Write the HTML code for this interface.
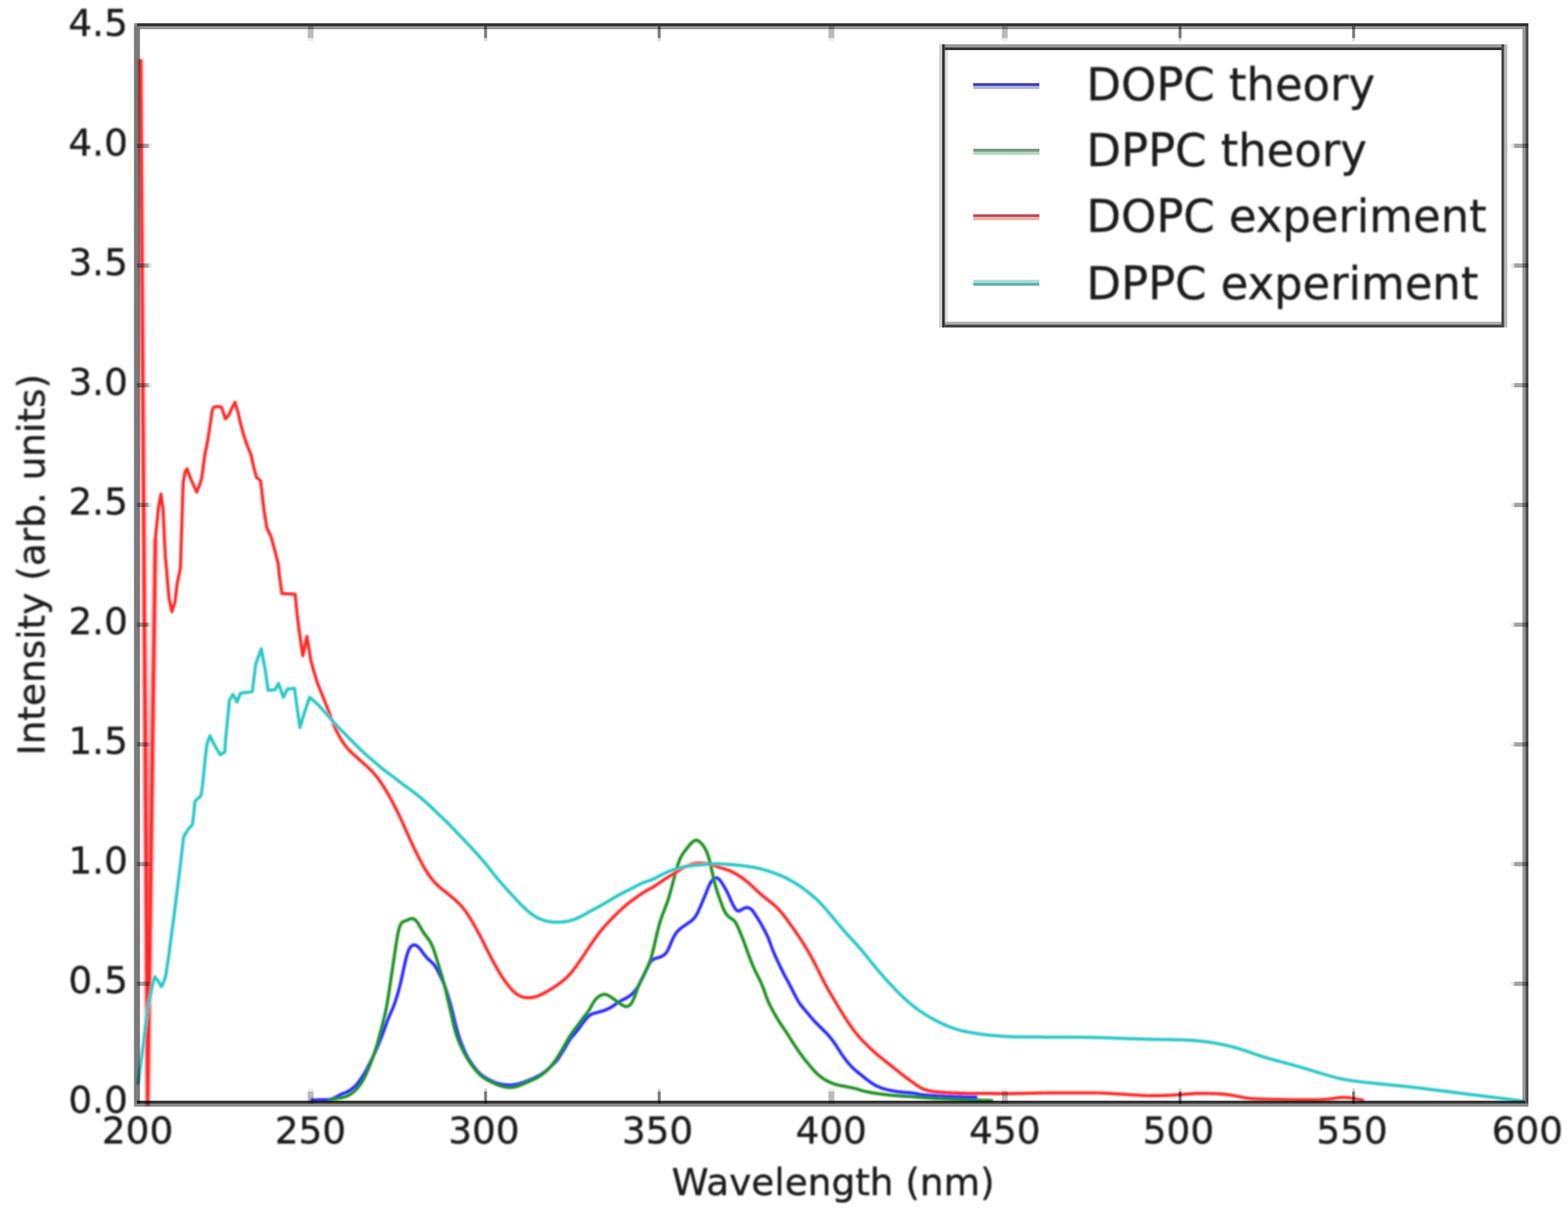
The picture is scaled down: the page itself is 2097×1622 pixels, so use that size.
<!DOCTYPE html>
<html lang="en"><head><meta charset="utf-8"><title>Absorption spectra</title>
<style>
html,body{margin:0;padding:0;background:#fff;}
body{width:2097px;height:1622px;overflow:hidden;}
svg{display:block;font-family:"DejaVu Sans","Liberation Sans",sans-serif;}
text{fill:#1c1c1c;stroke:#1c1c1c;stroke-width:0.45px;}
.tk{font-size:50px;}
.lb{font-size:50px;}
.lg{font-size:60px;}
.c{fill:none;stroke-width:4.2;stroke-linejoin:round;stroke-linecap:butt;}
</style></head><body>
<svg width="2097" height="1622" viewBox="0 0 2097 1622">
<defs>
<filter id="bt" x="-5%" y="-5%" width="110%" height="110%"><feGaussianBlur stdDeviation="1.1"/></filter>
<filter id="bc" x="-5%" y="-5%" width="110%" height="110%"><feGaussianBlur stdDeviation="1.0"/></filter>
<filter id="bs" x="-5%" y="-5%" width="110%" height="110%"><feGaussianBlur stdDeviation="0.55"/></filter>
<linearGradient id="rg" gradientUnits="userSpaceOnUse" x1="0" y1="850" x2="0" y2="1476"><stop offset="0" stop-color="#ff3030" stop-opacity="0"/><stop offset="0.45" stop-color="#ff3030" stop-opacity="0.45"/><stop offset="1" stop-color="#ff2020" stop-opacity="0.75"/></linearGradient>
<clipPath id="cp"><rect x="179" y="31" width="1865" height="1449"/></clipPath>
</defs>
<rect width="2097" height="1622" fill="#fff"/>
<g id="curves" clip-path="url(#cp)" filter="url(#bc)">
<polygon fill="url(#rg)" points="193.2,850 197.5,1476 206,850"/>
<polyline fill="none" stroke="#ff3030" stroke-opacity="0.30" stroke-width="8.5" stroke-linejoin="round" points="188,79 197.5,1476 207.8,720"/>
<polyline class="c" stroke="#2626ff" points="415.4,1470.8 416.4,1470.8 417.4,1470.8 418.4,1470.8 419.4,1470.8 420.4,1470.8 421.4,1470.8 422.4,1470.8 423.4,1470.8 424.4,1470.8 425.4,1470.8 426.4,1470.7 427.4,1470.7 428.4,1470.7 429.4,1470.7 430.4,1470.7 431.4,1470.7 432.4,1470.7 433.4,1470.6 434.4,1470.6 435.4,1470.6 436.4,1470.6 437.4,1470.5 438.4,1470.5 439.4,1470.4 440.4,1470.2 441.4,1470.1 442.4,1469.8 443.4,1469.5 444.4,1469.2 445.4,1468.8 446.4,1468.4 447.4,1467.9 448.4,1467.4 449.4,1466.9 450.4,1466.4 451.4,1465.8 452.4,1465.3 453.4,1464.7 454.4,1464.1 455.4,1463.6 456.4,1463.2 457.4,1462.8 458.4,1462.4 459.4,1462.0 460.4,1461.6 461.4,1461.3 462.4,1460.9 463.4,1460.5 464.4,1460.0 465.4,1459.5 466.4,1458.9 467.4,1458.3 468.4,1457.6 469.4,1456.9 470.4,1456.2 471.4,1455.4 472.4,1454.5 473.4,1453.6 474.4,1452.7 475.4,1451.7 476.4,1450.7 477.4,1449.6 478.4,1448.4 479.4,1447.1 480.4,1445.8 481.4,1444.3 482.4,1442.9 483.4,1441.3 484.4,1439.8 485.4,1438.2 486.4,1436.6 487.4,1435.0 488.4,1433.3 489.4,1431.5 490.4,1429.7 491.4,1427.8 492.4,1425.9 493.4,1423.9 494.4,1421.9 495.4,1419.9 496.4,1417.9 497.4,1415.9 498.4,1413.9 499.4,1411.8 500.4,1409.7 501.4,1407.6 502.4,1405.3 503.4,1403.1 504.4,1400.8 505.4,1398.4 506.4,1396.1 507.4,1393.7 508.4,1391.2 509.4,1388.8 510.4,1386.2 511.4,1383.6 512.4,1380.9 513.4,1378.1 514.4,1375.3 515.4,1372.4 516.4,1369.6 517.4,1366.8 518.4,1364.2 519.4,1361.7 520.4,1359.3 521.4,1357.1 522.4,1354.9 523.4,1352.7 524.4,1350.4 525.4,1348.0 526.4,1345.4 527.4,1342.7 528.4,1339.9 529.4,1336.9 530.4,1333.7 531.4,1330.5 532.4,1327.0 533.4,1323.4 534.4,1319.7 535.4,1315.6 536.4,1311.4 537.4,1307.0 538.4,1302.4 539.4,1297.7 540.4,1293.0 541.4,1288.5 542.4,1284.2 543.4,1280.2 544.4,1276.7 545.4,1273.6 546.4,1270.9 547.4,1268.8 548.4,1267.1 549.4,1265.8 550.4,1264.9 551.4,1264.2 552.4,1263.8 553.4,1263.6 554.4,1263.6 555.4,1263.8 556.4,1264.2 557.4,1264.7 558.4,1265.5 559.4,1266.3 560.4,1267.3 561.4,1268.5 562.4,1269.7 563.4,1271.0 564.4,1272.4 565.4,1273.8 566.4,1275.2 567.4,1276.5 568.4,1277.8 569.4,1279.0 570.4,1280.1 571.4,1281.2 572.4,1282.2 573.4,1283.2 574.4,1284.0 575.4,1284.9 576.4,1285.8 577.4,1286.7 578.4,1287.6 579.4,1288.7 580.4,1289.9 581.4,1291.2 582.4,1292.7 583.4,1294.3 584.4,1296.1 585.4,1298.0 586.4,1300.0 587.4,1302.1 588.4,1304.2 589.4,1306.3 590.4,1308.4 591.4,1310.4 592.4,1312.6 593.4,1314.8 594.4,1317.2 595.4,1319.8 596.4,1322.7 597.4,1325.7 598.4,1328.9 599.4,1332.2 600.4,1335.5 601.4,1339.0 602.4,1342.6 603.4,1346.3 604.4,1350.1 605.4,1354.1 606.4,1358.1 607.4,1362.2 608.4,1366.4 609.4,1370.4 610.4,1374.3 611.4,1378.0 612.4,1381.4 613.4,1384.7 614.4,1387.8 615.4,1390.7 616.4,1393.5 617.4,1396.1 618.4,1398.6 619.4,1401.1 620.4,1403.4 621.4,1405.6 622.4,1407.7 623.4,1409.7 624.4,1411.6 625.4,1413.5 626.4,1415.2 627.4,1416.9 628.4,1418.5 629.4,1420.0 630.4,1421.5 631.4,1423.0 632.4,1424.4 633.4,1425.7 634.4,1427.0 635.4,1428.3 636.4,1429.5 637.4,1430.7 638.4,1431.9 639.4,1433.0 640.4,1434.0 641.4,1435.0 642.4,1435.9 643.4,1436.8 644.4,1437.6 645.4,1438.4 646.4,1439.1 647.4,1439.8 648.4,1440.5 649.4,1441.1 650.4,1441.7 651.4,1442.3 652.4,1442.9 653.4,1443.4 654.4,1443.9 655.4,1444.4 656.4,1444.9 657.4,1445.4 658.4,1445.8 659.4,1446.2 660.4,1446.7 661.4,1447.1 662.4,1447.5 663.4,1447.9 664.4,1448.2 665.4,1448.6 666.4,1448.9 667.4,1449.1 668.4,1449.4 669.4,1449.6 670.4,1449.8 671.4,1450.0 672.4,1450.2 673.4,1450.3 674.4,1450.4 675.4,1450.5 676.4,1450.6 677.4,1450.7 678.4,1450.8 679.4,1450.9 680.4,1450.9 681.4,1450.9 682.4,1450.9 683.4,1450.9 684.4,1450.8 685.4,1450.7 686.4,1450.6 687.4,1450.5 688.4,1450.3 689.4,1450.1 690.4,1449.9 691.4,1449.7 692.4,1449.5 693.4,1449.2 694.4,1449.0 695.4,1448.7 696.4,1448.4 697.4,1448.0 698.4,1447.7 699.4,1447.4 700.4,1447.0 701.4,1446.7 702.4,1446.3 703.4,1445.9 704.4,1445.6 705.4,1445.2 706.4,1444.8 707.4,1444.4 708.4,1444.0 709.4,1443.5 710.4,1443.1 711.4,1442.7 712.4,1442.3 713.4,1441.8 714.4,1441.4 715.4,1440.9 716.4,1440.4 717.4,1439.9 718.4,1439.4 719.4,1438.9 720.4,1438.3 721.4,1437.8 722.4,1437.2 723.4,1436.6 724.4,1436.0 725.4,1435.3 726.4,1434.6 727.4,1433.9 728.4,1433.2 729.4,1432.4 730.4,1431.6 731.4,1430.8 732.4,1429.9 733.4,1429.1 734.4,1428.2 735.4,1427.3 736.4,1426.4 737.4,1425.5 738.4,1424.5 739.4,1423.6 740.4,1422.6 741.4,1421.7 742.4,1420.7 743.4,1419.6 744.4,1418.5 745.4,1417.3 746.4,1415.9 747.4,1414.5 748.4,1412.9 749.4,1411.3 750.4,1409.7 751.4,1408.1 752.4,1406.5 753.4,1404.9 754.4,1403.2 755.4,1401.6 756.4,1399.9 757.4,1398.1 758.4,1396.3 759.4,1394.6 760.4,1392.9 761.4,1391.3 762.4,1389.8 763.4,1388.4 764.4,1387.1 765.4,1385.9 766.4,1384.7 767.4,1383.6 768.4,1382.4 769.4,1381.3 770.4,1380.1 771.4,1378.8 772.4,1377.6 773.4,1376.2 774.4,1374.9 775.4,1373.6 776.4,1372.2 777.4,1370.8 778.4,1369.5 779.4,1368.1 780.4,1366.8 781.4,1365.5 782.4,1364.2 783.4,1363.0 784.4,1361.8 785.4,1360.7 786.4,1359.7 787.4,1358.7 788.4,1357.9 789.4,1357.1 790.4,1356.6 791.4,1356.1 792.4,1355.7 793.4,1355.3 794.4,1355.0 795.4,1354.7 796.4,1354.5 797.4,1354.2 798.4,1353.9 799.4,1353.7 800.4,1353.4 801.4,1353.1 802.4,1352.9 803.4,1352.6 804.4,1352.3 805.4,1352.0 806.4,1351.7 807.4,1351.4 808.4,1351.0 809.4,1350.6 810.4,1350.2 811.4,1349.8 812.4,1349.4 813.4,1348.9 814.4,1348.4 815.4,1347.9 816.4,1347.3 817.4,1346.7 818.4,1346.1 819.4,1345.5 820.4,1344.9 821.4,1344.2 822.4,1343.5 823.4,1342.7 824.4,1342.0 825.4,1341.3 826.4,1340.6 827.4,1339.9 828.4,1339.3 829.4,1338.7 830.4,1338.1 831.4,1337.6 832.4,1337.1 833.4,1336.6 834.4,1336.1 835.4,1335.7 836.4,1335.1 837.4,1334.6 838.4,1334.1 839.4,1333.5 840.4,1332.8 841.4,1332.2 842.4,1331.4 843.4,1330.7 844.4,1329.9 845.4,1329.0 846.4,1328.0 847.4,1327.0 848.4,1325.9 849.4,1324.7 850.4,1323.4 851.4,1321.9 852.4,1320.4 853.4,1318.7 854.4,1316.9 855.4,1315.0 856.4,1313.1 857.4,1311.1 858.4,1309.1 859.4,1307.0 860.4,1305.0 861.4,1303.0 862.4,1300.9 863.4,1298.9 864.4,1296.8 865.4,1294.7 866.4,1292.7 867.4,1290.7 868.4,1288.9 869.4,1287.2 870.4,1285.8 871.4,1284.6 872.4,1283.7 873.4,1283.0 874.4,1282.5 875.4,1282.0 876.4,1281.7 877.4,1281.4 878.4,1281.1 879.4,1280.8 880.4,1280.6 881.4,1280.3 882.4,1279.9 883.4,1279.6 884.4,1279.1 885.4,1278.6 886.4,1278.1 887.4,1277.4 888.4,1276.7 889.4,1275.8 890.4,1274.7 891.4,1273.4 892.4,1271.8 893.4,1270.0 894.4,1267.9 895.4,1265.6 896.4,1263.2 897.4,1260.8 898.4,1258.5 899.4,1256.2 900.4,1254.1 901.4,1252.2 902.4,1250.4 903.4,1248.8 904.4,1247.4 905.4,1246.1 906.4,1245.0 907.4,1244.0 908.4,1243.1 909.4,1242.2 910.4,1241.4 911.4,1240.6 912.4,1239.9 913.4,1239.2 914.4,1238.5 915.4,1237.8 916.4,1237.1 917.4,1236.4 918.4,1235.7 919.4,1235.0 920.4,1234.3 921.4,1233.6 922.4,1232.9 923.4,1232.2 924.4,1231.5 925.4,1230.7 926.4,1229.8 927.4,1228.8 928.4,1227.7 929.4,1226.4 930.4,1225.0 931.4,1223.3 932.4,1221.5 933.4,1219.5 934.4,1217.4 935.4,1215.2 936.4,1213.0 937.4,1210.6 938.4,1208.3 939.4,1205.9 940.4,1203.5 941.4,1201.2 942.4,1198.8 943.4,1196.3 944.4,1193.9 945.4,1191.3 946.4,1188.8 947.4,1186.3 948.4,1184.0 949.4,1181.9 950.4,1180.0 951.4,1178.5 952.4,1177.2 953.4,1176.1 954.4,1175.3 955.4,1174.6 956.4,1174.2 957.4,1173.9 958.4,1173.9 959.4,1174.2 960.4,1174.7 961.4,1175.5 962.4,1176.6 963.4,1177.8 964.4,1179.2 965.4,1180.6 966.4,1182.2 967.4,1183.8 968.4,1185.5 969.4,1187.2 970.4,1189.0 971.4,1190.8 972.4,1192.7 973.4,1194.8 974.4,1196.9 975.4,1199.1 976.4,1201.4 977.4,1203.7 978.4,1206.0 979.4,1208.1 980.4,1210.1 981.4,1212.0 982.4,1213.7 983.4,1215.1 984.4,1216.3 985.4,1217.3 986.4,1217.9 987.4,1218.2 988.4,1218.1 989.4,1217.8 990.4,1217.3 991.4,1216.6 992.4,1216.0 993.4,1215.3 994.4,1214.8 995.4,1214.4 996.4,1214.0 997.4,1213.8 998.4,1213.7 999.4,1213.7 1000.4,1213.8 1001.4,1214.1 1002.4,1214.4 1003.4,1214.9 1004.4,1215.6 1005.4,1216.5 1006.4,1217.6 1007.4,1218.9 1008.4,1220.4 1009.4,1222.0 1010.4,1223.6 1011.4,1225.1 1012.4,1226.7 1013.4,1228.2 1014.4,1229.8 1015.4,1231.4 1016.4,1233.1 1017.4,1234.8 1018.4,1236.5 1019.4,1238.3 1020.4,1240.2 1021.4,1242.0 1022.4,1243.9 1023.4,1245.8 1024.4,1247.7 1025.4,1249.7 1026.4,1251.9 1027.4,1254.1 1028.4,1256.6 1029.4,1259.3 1030.4,1262.1 1031.4,1264.9 1032.4,1267.7 1033.4,1270.3 1034.4,1272.8 1035.4,1275.1 1036.4,1277.4 1037.4,1279.5 1038.4,1281.7 1039.4,1283.8 1040.4,1286.0 1041.4,1288.1 1042.4,1290.3 1043.4,1292.4 1044.4,1294.5 1045.4,1296.5 1046.4,1298.6 1047.4,1300.5 1048.4,1302.5 1049.4,1304.4 1050.4,1306.2 1051.4,1308.1 1052.4,1309.9 1053.4,1311.8 1054.4,1313.7 1055.4,1315.5 1056.4,1317.4 1057.4,1319.4 1058.4,1321.3 1059.4,1323.3 1060.4,1325.3 1061.4,1327.2 1062.4,1329.2 1063.4,1331.1 1064.4,1333.1 1065.4,1334.9 1066.4,1336.7 1067.4,1338.5 1068.4,1340.1 1069.4,1341.7 1070.4,1343.1 1071.4,1344.4 1072.4,1345.7 1073.4,1346.9 1074.4,1348.1 1075.4,1349.2 1076.4,1350.4 1077.4,1351.6 1078.4,1352.8 1079.4,1354.0 1080.4,1355.2 1081.4,1356.4 1082.4,1357.6 1083.4,1358.8 1084.4,1360.0 1085.4,1361.2 1086.4,1362.4 1087.4,1363.5 1088.4,1364.6 1089.4,1365.7 1090.4,1366.7 1091.4,1367.7 1092.4,1368.7 1093.4,1369.7 1094.4,1370.7 1095.4,1371.7 1096.4,1372.7 1097.4,1373.7 1098.4,1374.7 1099.4,1375.7 1100.4,1376.7 1101.4,1377.7 1102.4,1378.7 1103.4,1379.7 1104.4,1380.7 1105.4,1381.7 1106.4,1382.8 1107.4,1383.9 1108.4,1385.1 1109.4,1386.2 1110.4,1387.4 1111.4,1388.7 1112.4,1390.0 1113.4,1391.3 1114.4,1392.6 1115.4,1394.0 1116.4,1395.5 1117.4,1396.9 1118.4,1398.4 1119.4,1399.9 1120.4,1401.5 1121.4,1403.1 1122.4,1404.7 1123.4,1406.2 1124.4,1407.8 1125.4,1409.3 1126.4,1410.7 1127.4,1412.2 1128.4,1413.5 1129.4,1414.9 1130.4,1416.2 1131.4,1417.5 1132.4,1418.8 1133.4,1420.1 1134.4,1421.3 1135.4,1422.5 1136.4,1423.6 1137.4,1424.7 1138.4,1425.8 1139.4,1426.9 1140.4,1427.9 1141.4,1428.8 1142.4,1429.8 1143.4,1430.7 1144.4,1431.5 1145.4,1432.4 1146.4,1433.2 1147.4,1434.0 1148.4,1434.8 1149.4,1435.6 1150.4,1436.4 1151.4,1437.2 1152.4,1438.0 1153.4,1438.8 1154.4,1439.6 1155.4,1440.4 1156.4,1441.2 1157.4,1442.0 1158.4,1442.8 1159.4,1443.6 1160.4,1444.4 1161.4,1445.2 1162.4,1445.9 1163.4,1446.6 1164.4,1447.3 1165.4,1448.0 1166.4,1448.7 1167.4,1449.3 1168.4,1449.9 1169.4,1450.5 1170.4,1451.0 1171.4,1451.6 1172.4,1452.1 1173.4,1452.5 1174.4,1453.0 1175.4,1453.4 1176.4,1453.9 1177.4,1454.3 1178.4,1454.7 1179.4,1455.0 1180.4,1455.4 1181.4,1455.7 1182.4,1456.0 1183.4,1456.3 1184.4,1456.5 1185.4,1456.8 1186.4,1457.0 1187.4,1457.3 1188.4,1457.5 1189.4,1457.7 1190.4,1457.9 1191.4,1458.1 1192.4,1458.3 1193.4,1458.5 1194.4,1458.7 1195.4,1458.9 1196.4,1459.1 1197.4,1459.2 1198.4,1459.4 1199.4,1459.5 1200.4,1459.7 1201.4,1459.8 1202.4,1460.0 1203.4,1460.1 1204.4,1460.2 1205.4,1460.3 1206.4,1460.4 1207.4,1460.5 1208.4,1460.6 1209.4,1460.7 1210.4,1460.7 1211.4,1460.8 1212.4,1460.9 1213.4,1461.0 1214.4,1461.0 1215.4,1461.1 1216.4,1461.2 1217.4,1461.3 1218.4,1461.4 1219.4,1461.5 1220.4,1461.6 1221.4,1461.7 1222.4,1461.9 1223.4,1462.0 1224.4,1462.2 1225.4,1462.4 1226.4,1462.6 1227.4,1462.8 1228.4,1463.0 1229.4,1463.2 1230.4,1463.4 1231.4,1463.5 1232.4,1463.7 1233.4,1463.9 1234.4,1464.0 1235.4,1464.1 1236.4,1464.2 1237.4,1464.3 1238.4,1464.4 1239.4,1464.4 1240.4,1464.5 1241.4,1464.6 1242.4,1464.7 1243.4,1464.7 1244.4,1464.8 1245.4,1464.9 1246.4,1464.9 1247.4,1465.0 1248.4,1465.0 1249.4,1465.1 1250.4,1465.2 1251.4,1465.2 1252.4,1465.3 1253.4,1465.3 1254.4,1465.4 1255.4,1465.5 1256.4,1465.5 1257.4,1465.6 1258.4,1465.6 1259.4,1465.7 1260.4,1465.7 1261.4,1465.8 1262.4,1465.8 1263.4,1465.9 1264.4,1465.9 1265.4,1466.0 1266.4,1466.0 1267.4,1466.1 1268.4,1466.1 1269.4,1466.2 1270.4,1466.2 1271.4,1466.2 1272.4,1466.3 1273.4,1466.3 1274.4,1466.4 1275.4,1466.4 1276.4,1466.4 1277.4,1466.5 1278.4,1466.5 1279.4,1466.5 1280.4,1466.6 1281.4,1466.6 1282.4,1466.6 1283.4,1466.7 1284.4,1466.7 1285.4,1466.7 1286.4,1466.7 1287.4,1466.8 1288.4,1466.8 1289.4,1466.8 1290.4,1466.8 1291.4,1466.8 1292.4,1466.9 1293.4,1466.9 1294.4,1466.9 1295.4,1466.9 1296.4,1466.9 1297.4,1466.9 1298.4,1467.0 1299.4,1467.0 1300.4,1467.0 1301.4,1467.0 1302.4,1467.0 1303.4,1467.0 1304.4,1467.0 1305.4,1467.0 1306.4,1467.0 1307.0,1467.0"/>
<polyline class="c" stroke="#1f8f1f" points="439.5,1470.8 440.5,1470.6 441.5,1470.5 442.5,1470.3 443.5,1470.2 444.5,1470.0 445.5,1469.8 446.5,1469.7 447.5,1469.5 448.5,1469.3 449.5,1469.2 450.5,1469.0 451.5,1468.8 452.5,1468.6 453.5,1468.5 454.5,1468.3 455.5,1468.1 456.5,1467.9 457.5,1467.7 458.5,1467.5 459.5,1467.2 460.5,1466.9 461.5,1466.6 462.5,1466.3 463.5,1465.9 464.5,1465.5 465.5,1465.0 466.5,1464.4 467.5,1463.9 468.5,1463.3 469.5,1462.6 470.5,1461.9 471.5,1461.1 472.5,1460.3 473.5,1459.4 474.5,1458.5 475.5,1457.6 476.5,1456.6 477.5,1455.5 478.5,1454.4 479.5,1453.2 480.5,1452.0 481.5,1450.6 482.5,1449.2 483.5,1447.7 484.5,1446.1 485.5,1444.3 486.5,1442.5 487.5,1440.5 488.5,1438.5 489.5,1436.4 490.5,1434.2 491.5,1431.9 492.5,1429.5 493.5,1427.1 494.5,1424.7 495.5,1422.2 496.5,1419.6 497.5,1417.0 498.5,1414.3 499.5,1411.6 500.5,1408.7 501.5,1405.8 502.5,1402.7 503.5,1399.4 504.5,1396.0 505.5,1392.5 506.5,1388.9 507.5,1385.2 508.5,1381.4 509.5,1377.7 510.5,1373.9 511.5,1370.1 512.5,1366.2 513.5,1362.3 514.5,1358.1 515.5,1353.6 516.5,1348.7 517.5,1343.3 518.5,1337.4 519.5,1331.2 520.5,1324.7 521.5,1318.0 522.5,1311.3 523.5,1304.6 524.5,1297.9 525.5,1291.1 526.5,1284.3 527.5,1277.5 528.5,1270.7 529.5,1264.1 530.5,1257.7 531.5,1251.8 532.5,1246.7 533.5,1242.4 534.5,1239.1 535.5,1236.7 536.5,1234.9 537.5,1233.7 538.5,1232.9 539.5,1232.3 540.5,1231.9 541.5,1231.5 542.5,1231.2 543.5,1230.8 544.5,1230.5 545.5,1230.0 546.5,1229.6 547.5,1229.2 548.5,1228.8 549.5,1228.5 550.5,1228.3 551.5,1228.4 552.5,1228.5 553.5,1228.9 554.5,1229.5 555.5,1230.3 556.5,1231.3 557.5,1232.5 558.5,1233.8 559.5,1235.3 560.5,1236.9 561.5,1238.6 562.5,1240.4 563.5,1242.1 564.5,1243.8 565.5,1245.4 566.5,1247.0 567.5,1248.5 568.5,1249.9 569.5,1251.2 570.5,1252.5 571.5,1253.8 572.5,1255.1 573.5,1256.5 574.5,1258.0 575.5,1259.6 576.5,1261.5 577.5,1263.6 578.5,1265.9 579.5,1268.5 580.5,1271.3 581.5,1274.2 582.5,1277.3 583.5,1280.5 584.5,1283.8 585.5,1287.1 586.5,1290.4 587.5,1293.8 588.5,1297.1 589.5,1300.4 590.5,1303.8 591.5,1307.2 592.5,1310.7 593.5,1314.3 594.5,1318.1 595.5,1322.0 596.5,1326.0 597.5,1330.1 598.5,1334.4 599.5,1338.7 600.5,1343.0 601.5,1347.3 602.5,1351.7 603.5,1356.2 604.5,1360.6 605.5,1365.1 606.5,1369.4 607.5,1373.5 608.5,1377.4 609.5,1380.9 610.5,1384.1 611.5,1387.1 612.5,1389.8 613.5,1392.3 614.5,1394.8 615.5,1397.0 616.5,1399.2 617.5,1401.4 618.5,1403.4 619.5,1405.5 620.5,1407.4 621.5,1409.3 622.5,1411.2 623.5,1412.9 624.5,1414.6 625.5,1416.3 626.5,1417.9 627.5,1419.4 628.5,1420.9 629.5,1422.3 630.5,1423.7 631.5,1425.1 632.5,1426.4 633.5,1427.6 634.5,1428.9 635.5,1430.1 636.5,1431.3 637.5,1432.5 638.5,1433.6 639.5,1434.7 640.5,1435.7 641.5,1436.7 642.5,1437.6 643.5,1438.5 644.5,1439.3 645.5,1440.1 646.5,1440.8 647.5,1441.6 648.5,1442.2 649.5,1442.9 650.5,1443.5 651.5,1444.0 652.5,1444.6 653.5,1445.1 654.5,1445.6 655.5,1446.1 656.5,1446.5 657.5,1447.0 658.5,1447.5 659.5,1447.9 660.5,1448.4 661.5,1448.9 662.5,1449.3 663.5,1449.8 664.5,1450.2 665.5,1450.6 666.5,1451.0 667.5,1451.4 668.5,1451.7 669.5,1452.0 670.5,1452.3 671.5,1452.6 672.5,1452.8 673.5,1453.1 674.5,1453.3 675.5,1453.5 676.5,1453.6 677.5,1453.8 678.5,1453.9 679.5,1454.0 680.5,1454.1 681.5,1454.2 682.5,1454.2 683.5,1454.1 684.5,1454.0 685.5,1453.9 686.5,1453.8 687.5,1453.6 688.5,1453.4 689.5,1453.2 690.5,1453.0 691.5,1452.7 692.5,1452.4 693.5,1452.0 694.5,1451.7 695.5,1451.3 696.5,1450.9 697.5,1450.4 698.5,1450.0 699.5,1449.6 700.5,1449.2 701.5,1448.7 702.5,1448.3 703.5,1447.8 704.5,1447.4 705.5,1447.0 706.5,1446.5 707.5,1446.1 708.5,1445.6 709.5,1445.2 710.5,1444.8 711.5,1444.3 712.5,1443.9 713.5,1443.5 714.5,1443.0 715.5,1442.5 716.5,1442.0 717.5,1441.5 718.5,1440.9 719.5,1440.4 720.5,1439.7 721.5,1439.1 722.5,1438.5 723.5,1437.8 724.5,1437.1 725.5,1436.4 726.5,1435.6 727.5,1434.8 728.5,1434.0 729.5,1433.2 730.5,1432.3 731.5,1431.4 732.5,1430.4 733.5,1429.4 734.5,1428.4 735.5,1427.3 736.5,1426.1 737.5,1424.9 738.5,1423.7 739.5,1422.4 740.5,1421.1 741.5,1419.8 742.5,1418.4 743.5,1417.0 744.5,1415.5 745.5,1413.9 746.5,1412.4 747.5,1410.7 748.5,1409.0 749.5,1407.3 750.5,1405.6 751.5,1403.9 752.5,1402.2 753.5,1400.5 754.5,1398.8 755.5,1397.1 756.5,1395.4 757.5,1393.6 758.5,1391.9 759.5,1390.1 760.5,1388.4 761.5,1386.7 762.5,1385.1 763.5,1383.6 764.5,1382.1 765.5,1380.7 766.5,1379.2 767.5,1377.9 768.5,1376.5 769.5,1375.1 770.5,1373.8 771.5,1372.5 772.5,1371.1 773.5,1369.8 774.5,1368.5 775.5,1367.1 776.5,1365.8 777.5,1364.5 778.5,1363.2 779.5,1361.9 780.5,1360.6 781.5,1359.3 782.5,1358.0 783.5,1356.7 784.5,1355.4 785.5,1354.1 786.5,1352.7 787.5,1351.2 788.5,1349.6 789.5,1347.9 790.5,1346.0 791.5,1344.2 792.5,1342.4 793.5,1340.6 794.5,1339.0 795.5,1337.6 796.5,1336.4 797.5,1335.3 798.5,1334.3 799.5,1333.4 800.5,1332.7 801.5,1332.0 802.5,1331.4 803.5,1330.9 804.5,1330.5 805.5,1330.1 806.5,1329.9 807.5,1329.7 808.5,1329.6 809.5,1329.7 810.5,1329.9 811.5,1330.2 812.5,1330.6 813.5,1331.1 814.5,1331.7 815.5,1332.3 816.5,1332.9 817.5,1333.6 818.5,1334.3 819.5,1335.0 820.5,1335.7 821.5,1336.4 822.5,1337.1 823.5,1337.9 824.5,1338.6 825.5,1339.3 826.5,1340.1 827.5,1340.8 828.5,1341.5 829.5,1342.2 830.5,1342.9 831.5,1343.5 832.5,1344.1 833.5,1344.7 834.5,1345.2 835.5,1345.5 836.5,1345.8 837.5,1345.9 838.5,1345.8 839.5,1345.6 840.5,1345.3 841.5,1344.7 842.5,1343.9 843.5,1342.9 844.5,1341.5 845.5,1339.9 846.5,1337.9 847.5,1335.6 848.5,1333.1 849.5,1330.5 850.5,1327.7 851.5,1324.9 852.5,1322.2 853.5,1319.6 854.5,1317.2 855.5,1315.0 856.5,1312.9 857.5,1310.8 858.5,1308.8 859.5,1306.8 860.5,1304.9 861.5,1302.9 862.5,1300.8 863.5,1298.8 864.5,1296.7 865.5,1294.5 866.5,1292.2 867.5,1289.8 868.5,1287.2 869.5,1284.4 870.5,1281.4 871.5,1278.1 872.5,1274.5 873.5,1270.6 874.5,1266.5 875.5,1262.3 876.5,1257.8 877.5,1253.4 878.5,1249.0 879.5,1244.7 880.5,1240.7 881.5,1237.0 882.5,1233.5 883.5,1230.3 884.5,1227.3 885.5,1224.5 886.5,1221.8 887.5,1219.1 888.5,1216.6 889.5,1214.0 890.5,1211.5 891.5,1208.8 892.5,1206.1 893.5,1203.1 894.5,1200.0 895.5,1196.6 896.5,1193.0 897.5,1189.3 898.5,1185.5 899.5,1181.8 900.5,1178.0 901.5,1174.3 902.5,1170.5 903.5,1166.8 904.5,1163.2 905.5,1159.8 906.5,1156.5 907.5,1153.5 908.5,1150.8 909.5,1148.4 910.5,1146.3 911.5,1144.5 912.5,1142.9 913.5,1141.4 914.5,1139.9 915.5,1138.5 916.5,1137.2 917.5,1135.9 918.5,1134.6 919.5,1133.3 920.5,1132.0 921.5,1130.8 922.5,1129.6 923.5,1128.5 924.5,1127.5 925.5,1126.5 926.5,1125.7 927.5,1124.9 928.5,1124.3 929.5,1123.8 930.5,1123.5 931.5,1123.5 932.5,1123.7 933.5,1124.1 934.5,1124.7 935.5,1125.4 936.5,1126.3 937.5,1127.2 938.5,1128.3 939.5,1129.5 940.5,1130.8 941.5,1132.3 942.5,1133.9 943.5,1135.7 944.5,1137.8 945.5,1140.1 946.5,1142.8 947.5,1145.9 948.5,1149.3 949.5,1153.1 950.5,1157.3 951.5,1161.7 952.5,1166.2 953.5,1170.7 954.5,1175.2 955.5,1179.4 956.5,1183.3 957.5,1186.9 958.5,1190.2 959.5,1193.2 960.5,1196.2 961.5,1199.0 962.5,1201.8 963.5,1204.6 964.5,1207.4 965.5,1210.1 966.5,1212.7 967.5,1215.1 968.5,1217.3 969.5,1219.3 970.5,1221.0 971.5,1222.4 972.5,1223.7 973.5,1224.8 974.5,1225.8 975.5,1226.6 976.5,1227.3 977.5,1227.9 978.5,1228.5 979.5,1229.2 980.5,1230.0 981.5,1230.9 982.5,1232.1 983.5,1233.4 984.5,1235.1 985.5,1236.9 986.5,1238.9 987.5,1241.1 988.5,1243.5 989.5,1245.9 990.5,1248.3 991.5,1250.8 992.5,1253.2 993.5,1255.8 994.5,1258.3 995.5,1261.0 996.5,1263.7 997.5,1266.5 998.5,1269.3 999.5,1272.2 1000.5,1274.9 1001.5,1277.6 1002.5,1280.3 1003.5,1282.9 1004.5,1285.4 1005.5,1287.9 1006.5,1290.3 1007.5,1292.7 1008.5,1295.0 1009.5,1297.2 1010.5,1299.3 1011.5,1301.4 1012.5,1303.3 1013.5,1305.3 1014.5,1307.2 1015.5,1309.2 1016.5,1311.2 1017.5,1313.3 1018.5,1315.5 1019.5,1317.9 1020.5,1320.5 1021.5,1323.2 1022.5,1326.0 1023.5,1328.9 1024.5,1331.8 1025.5,1334.5 1026.5,1337.1 1027.5,1339.4 1028.5,1341.7 1029.5,1343.8 1030.5,1345.8 1031.5,1347.7 1032.5,1349.6 1033.5,1351.5 1034.5,1353.3 1035.5,1355.1 1036.5,1356.9 1037.5,1358.6 1038.5,1360.3 1039.5,1362.0 1040.5,1363.6 1041.5,1365.2 1042.5,1366.8 1043.5,1368.4 1044.5,1369.9 1045.5,1371.4 1046.5,1372.8 1047.5,1374.2 1048.5,1375.7 1049.5,1377.1 1050.5,1378.6 1051.5,1380.1 1052.5,1381.6 1053.5,1383.2 1054.5,1384.8 1055.5,1386.4 1056.5,1388.0 1057.5,1389.6 1058.5,1391.2 1059.5,1392.8 1060.5,1394.4 1061.5,1395.9 1062.5,1397.4 1063.5,1399.0 1064.5,1400.4 1065.5,1401.9 1066.5,1403.3 1067.5,1404.8 1068.5,1406.2 1069.5,1407.6 1070.5,1409.0 1071.5,1410.4 1072.5,1411.8 1073.5,1413.1 1074.5,1414.5 1075.5,1415.8 1076.5,1417.0 1077.5,1418.3 1078.5,1419.5 1079.5,1420.7 1080.5,1421.9 1081.5,1423.1 1082.5,1424.3 1083.5,1425.5 1084.5,1426.7 1085.5,1427.9 1086.5,1429.1 1087.5,1430.2 1088.5,1431.4 1089.5,1432.4 1090.5,1433.5 1091.5,1434.5 1092.5,1435.4 1093.5,1436.4 1094.5,1437.3 1095.5,1438.1 1096.5,1439.0 1097.5,1439.8 1098.5,1440.5 1099.5,1441.3 1100.5,1442.0 1101.5,1442.6 1102.5,1443.3 1103.5,1443.9 1104.5,1444.5 1105.5,1445.0 1106.5,1445.5 1107.5,1446.0 1108.5,1446.5 1109.5,1447.0 1110.5,1447.4 1111.5,1447.8 1112.5,1448.3 1113.5,1448.7 1114.5,1449.0 1115.5,1449.4 1116.5,1449.7 1117.5,1450.0 1118.5,1450.3 1119.5,1450.6 1120.5,1450.8 1121.5,1451.1 1122.5,1451.3 1123.5,1451.5 1124.5,1451.7 1125.5,1451.9 1126.5,1452.1 1127.5,1452.2 1128.5,1452.4 1129.5,1452.6 1130.5,1452.8 1131.5,1453.0 1132.5,1453.2 1133.5,1453.4 1134.5,1453.6 1135.5,1453.8 1136.5,1454.0 1137.5,1454.2 1138.5,1454.4 1139.5,1454.6 1140.5,1454.8 1141.5,1455.0 1142.5,1455.3 1143.5,1455.5 1144.5,1455.8 1145.5,1456.0 1146.5,1456.3 1147.5,1456.6 1148.5,1457.0 1149.5,1457.3 1150.5,1457.6 1151.5,1457.9 1152.5,1458.2 1153.5,1458.5 1154.5,1458.8 1155.5,1459.0 1156.5,1459.3 1157.5,1459.5 1158.5,1459.7 1159.5,1459.9 1160.5,1460.1 1161.5,1460.3 1162.5,1460.5 1163.5,1460.7 1164.5,1460.9 1165.5,1461.1 1166.5,1461.2 1167.5,1461.4 1168.5,1461.6 1169.5,1461.7 1170.5,1461.9 1171.5,1462.0 1172.5,1462.2 1173.5,1462.3 1174.5,1462.5 1175.5,1462.6 1176.5,1462.7 1177.5,1462.9 1178.5,1463.0 1179.5,1463.1 1180.5,1463.3 1181.5,1463.4 1182.5,1463.5 1183.5,1463.6 1184.5,1463.8 1185.5,1463.9 1186.5,1464.0 1187.5,1464.1 1188.5,1464.2 1189.5,1464.3 1190.5,1464.4 1191.5,1464.5 1192.5,1464.6 1193.5,1464.7 1194.5,1464.8 1195.5,1464.8 1196.5,1464.9 1197.5,1465.0 1198.5,1465.1 1199.5,1465.2 1200.5,1465.2 1201.5,1465.3 1202.5,1465.4 1203.5,1465.4 1204.5,1465.5 1205.5,1465.6 1206.5,1465.6 1207.5,1465.7 1208.5,1465.8 1209.5,1465.8 1210.5,1465.9 1211.5,1465.9 1212.5,1466.0 1213.5,1466.1 1214.5,1466.1 1215.5,1466.2 1216.5,1466.3 1217.5,1466.3 1218.5,1466.4 1219.5,1466.5 1220.5,1466.5 1221.5,1466.6 1222.5,1466.7 1223.5,1466.8 1224.5,1466.8 1225.5,1466.9 1226.5,1467.0 1227.5,1467.1 1228.5,1467.1 1229.5,1467.2 1230.5,1467.3 1231.5,1467.4 1232.5,1467.5 1233.5,1467.5 1234.5,1467.6 1235.5,1467.7 1236.5,1467.8 1237.5,1467.8 1238.5,1467.9 1239.5,1468.0 1240.5,1468.1 1241.5,1468.1 1242.5,1468.2 1243.5,1468.3 1244.5,1468.4 1245.5,1468.4 1246.5,1468.5 1247.5,1468.6 1248.5,1468.6 1249.5,1468.7 1250.5,1468.8 1251.5,1468.8 1252.5,1468.9 1253.5,1468.9 1254.5,1469.0 1255.5,1469.0 1256.5,1469.1 1257.5,1469.1 1258.5,1469.2 1259.5,1469.2 1260.5,1469.3 1261.5,1469.3 1262.5,1469.4 1263.5,1469.4 1264.5,1469.5 1265.5,1469.5 1266.5,1469.5 1267.5,1469.6 1268.5,1469.6 1269.5,1469.7 1270.5,1469.7 1271.5,1469.8 1272.5,1469.8 1273.5,1469.9 1274.5,1469.9 1275.5,1470.0 1276.5,1470.0 1277.5,1470.0 1278.5,1470.1 1279.5,1470.1 1280.5,1470.2 1281.5,1470.2 1282.5,1470.3 1283.5,1470.3 1284.5,1470.3 1285.5,1470.4 1286.5,1470.4 1287.5,1470.5 1288.5,1470.5 1289.5,1470.5 1290.5,1470.6 1291.5,1470.6 1292.5,1470.6 1293.5,1470.7 1294.5,1470.7 1295.5,1470.7 1296.5,1470.8 1297.5,1470.8 1298.5,1470.9 1299.5,1470.9 1300.5,1470.9 1301.5,1470.9 1302.5,1471.0 1303.5,1471.0 1304.5,1471.0 1305.5,1471.1 1306.5,1471.1 1307.5,1471.1 1308.5,1471.1 1309.5,1471.2 1310.5,1471.2 1311.5,1471.2 1312.5,1471.2 1313.5,1471.3 1314.5,1471.3 1315.5,1471.3 1316.5,1471.3 1317.5,1471.3 1318.5,1471.4 1319.5,1471.4 1320.5,1471.4 1321.5,1471.4 1322.5,1471.4 1323.5,1471.4 1324.5,1471.5 1325.5,1471.5 1326.5,1471.5 1327.5,1471.5 1328.0,1471.5"/>
<polyline class="c" stroke="#ff2626" points="188.0,79.0 197.5,1476.0 207.8,720.0 211.8,680.0 215.2,660.5 218.0,680.0 221.0,742.0 226.0,800.0 230.0,818.0 234.0,805.0 237.0,780.0 241.3,760.0 245.0,645.0 247.5,631.0 250.2,627.0 255.0,640.0 263.0,658.0 266.5,650.0 270.0,638.0 273.8,609.0 277.8,589.0 281.7,564.0 283.7,549.0 286.0,544.5 291.0,543.5 296.3,544.5 301.5,560.0 306.0,555.0 310.5,545.0 314.3,538.0 318.0,550.0 321.2,564.4 325.1,579.0 330.0,594.0 336.0,609.0 338.0,619.0 342.9,638.0 348.5,643.0 353.1,682.0 356.8,706.0 362.3,717.0 367.9,737.4 372.5,756.0 373.4,768.0 377.1,793.6 394.7,794.6 397.5,823.0 401.2,851.0 404.9,877.0 410.4,851.0 416.0,884.0 419.3,896.2 424.1,912.2 430.5,928.3 436.9,944.3 441.8,957.1 446.6,969.9 447.6,972.0 448.6,974.1 449.6,976.2 450.6,978.2 451.6,980.2 452.6,982.2 453.6,984.1 454.6,985.9 455.6,987.7 456.6,989.4 457.6,991.0 458.6,992.5 459.6,994.0 460.6,995.4 461.6,996.7 462.6,998.0 463.6,999.3 464.6,1000.4 465.6,1001.6 466.6,1002.7 467.6,1003.7 468.6,1004.7 469.6,1005.7 470.6,1006.7 471.6,1007.7 472.6,1008.6 473.6,1009.5 474.6,1010.4 475.6,1011.3 476.6,1012.2 477.6,1013.1 478.6,1014.0 479.6,1014.9 480.6,1015.8 481.6,1016.7 482.6,1017.5 483.6,1018.4 484.6,1019.3 485.6,1020.2 486.6,1021.1 487.6,1022.0 488.6,1022.9 489.6,1023.8 490.6,1024.7 491.6,1025.7 492.6,1026.6 493.6,1027.6 494.6,1028.5 495.6,1029.5 496.6,1030.5 497.6,1031.6 498.6,1032.6 499.6,1033.7 500.6,1034.8 501.6,1036.0 502.6,1037.2 503.6,1038.4 504.6,1039.7 505.6,1041.0 506.6,1042.3 507.6,1043.7 508.6,1045.2 509.6,1046.6 510.6,1048.1 511.6,1049.7 512.6,1051.2 513.6,1052.8 514.6,1054.4 515.6,1056.1 516.6,1057.7 517.6,1059.4 518.6,1061.1 519.6,1062.8 520.6,1064.6 521.6,1066.4 522.6,1068.2 523.6,1070.0 524.6,1071.9 525.6,1073.8 526.6,1075.7 527.6,1077.6 528.6,1079.6 529.6,1081.6 530.6,1083.6 531.6,1085.6 532.6,1087.7 533.6,1089.7 534.6,1091.8 535.6,1094.0 536.6,1096.1 537.6,1098.3 538.6,1100.5 539.6,1102.7 540.6,1104.9 541.6,1107.2 542.6,1109.4 543.6,1111.6 544.6,1113.9 545.6,1116.1 546.6,1118.4 547.6,1120.6 548.6,1122.8 549.6,1125.0 550.6,1127.2 551.6,1129.3 552.6,1131.5 553.6,1133.6 554.6,1135.7 555.6,1137.8 556.6,1139.8 557.6,1141.9 558.6,1143.9 559.6,1145.8 560.6,1147.8 561.6,1149.7 562.6,1151.6 563.6,1153.4 564.6,1155.3 565.6,1157.0 566.6,1158.8 567.6,1160.5 568.6,1162.2 569.6,1163.8 570.6,1165.4 571.6,1167.0 572.6,1168.5 573.6,1170.0 574.6,1171.4 575.6,1172.8 576.6,1174.1 577.6,1175.4 578.6,1176.6 579.6,1177.8 580.6,1179.0 581.6,1180.1 582.6,1181.1 583.6,1182.2 584.6,1183.1 585.6,1184.1 586.6,1185.0 587.6,1185.9 588.6,1186.8 589.6,1187.6 590.6,1188.4 591.6,1189.3 592.6,1190.1 593.6,1190.9 594.6,1191.7 595.6,1192.5 596.6,1193.3 597.6,1194.1 598.6,1194.9 599.6,1195.7 600.6,1196.5 601.6,1197.3 602.6,1198.1 603.6,1198.9 604.6,1199.8 605.6,1200.6 606.6,1201.5 607.6,1202.3 608.6,1203.2 609.6,1204.1 610.6,1205.0 611.6,1206.0 612.6,1206.9 613.6,1207.9 614.6,1208.9 615.6,1210.0 616.6,1211.1 617.6,1212.2 618.6,1213.4 619.6,1214.6 620.6,1215.8 621.6,1217.1 622.6,1218.5 623.6,1219.8 624.6,1221.3 625.6,1222.8 626.6,1224.3 627.6,1225.9 628.6,1227.5 629.6,1229.1 630.6,1230.8 631.6,1232.5 632.6,1234.2 633.6,1236.0 634.6,1237.7 635.6,1239.5 636.6,1241.3 637.6,1243.1 638.6,1245.0 639.6,1246.8 640.6,1248.7 641.6,1250.6 642.6,1252.5 643.6,1254.4 644.6,1256.4 645.6,1258.3 646.6,1260.3 647.6,1262.2 648.6,1264.2 649.6,1266.2 650.6,1268.2 651.6,1270.2 652.6,1272.1 653.6,1274.1 654.6,1276.1 655.6,1278.1 656.6,1280.0 657.6,1282.0 658.6,1283.9 659.6,1285.8 660.6,1287.6 661.6,1289.5 662.6,1291.3 663.6,1293.1 664.6,1294.9 665.6,1296.6 666.6,1298.3 667.6,1300.0 668.6,1301.6 669.6,1303.2 670.6,1304.8 671.6,1306.3 672.6,1307.9 673.6,1309.3 674.6,1310.8 675.6,1312.2 676.6,1313.6 677.6,1314.9 678.6,1316.3 679.6,1317.5 680.6,1318.8 681.6,1320.0 682.6,1321.2 683.6,1322.3 684.6,1323.4 685.6,1324.4 686.6,1325.4 687.6,1326.4 688.6,1327.3 689.6,1328.1 690.6,1328.9 691.6,1329.6 692.6,1330.2 693.6,1330.8 694.6,1331.4 695.6,1331.9 696.6,1332.3 697.6,1332.7 698.6,1333.0 699.6,1333.3 700.6,1333.5 701.6,1333.7 702.6,1333.9 703.6,1334.0 704.6,1334.1 705.6,1334.1 706.6,1334.1 707.6,1334.1 708.6,1334.1 709.6,1334.0 710.6,1333.9 711.6,1333.8 712.6,1333.6 713.6,1333.4 714.6,1333.2 715.6,1333.0 716.6,1332.7 717.6,1332.4 718.6,1332.0 719.6,1331.7 720.6,1331.3 721.6,1330.9 722.6,1330.5 723.6,1330.0 724.6,1329.5 725.6,1329.1 726.6,1328.5 727.6,1328.0 728.6,1327.5 729.6,1327.0 730.6,1326.4 731.6,1325.8 732.6,1325.2 733.6,1324.7 734.6,1324.1 735.6,1323.4 736.6,1322.8 737.6,1322.2 738.6,1321.6 739.6,1320.9 740.6,1320.3 741.6,1319.6 742.6,1318.9 743.6,1318.2 744.6,1317.6 745.6,1316.9 746.6,1316.1 747.6,1315.4 748.6,1314.7 749.6,1314.0 750.6,1313.2 751.6,1312.4 752.6,1311.6 753.6,1310.8 754.6,1310.0 755.6,1309.1 756.6,1308.2 757.6,1307.3 758.6,1306.3 759.6,1305.3 760.6,1304.3 761.6,1303.2 762.6,1302.1 763.6,1301.0 764.6,1299.8 765.6,1298.5 766.6,1297.3 767.6,1296.0 768.6,1294.6 769.6,1293.3 770.6,1291.9 771.6,1290.5 772.6,1289.1 773.6,1287.6 774.6,1286.2 775.6,1284.7 776.6,1283.2 777.6,1281.8 778.6,1280.3 779.6,1278.8 780.6,1277.3 781.6,1275.8 782.6,1274.3 783.6,1272.8 784.6,1271.3 785.6,1269.9 786.6,1268.4 787.6,1266.9 788.6,1265.4 789.6,1264.0 790.6,1262.5 791.6,1261.0 792.6,1259.6 793.6,1258.1 794.6,1256.7 795.6,1255.3 796.6,1253.9 797.6,1252.5 798.6,1251.2 799.6,1249.8 800.6,1248.5 801.6,1247.2 802.6,1245.9 803.6,1244.7 804.6,1243.4 805.6,1242.2 806.6,1241.0 807.6,1239.9 808.6,1238.7 809.6,1237.6 810.6,1236.5 811.6,1235.4 812.6,1234.3 813.6,1233.2 814.6,1232.2 815.6,1231.1 816.6,1230.1 817.6,1229.0 818.6,1228.0 819.6,1227.0 820.6,1226.0 821.6,1225.0 822.6,1224.0 823.6,1223.0 824.6,1222.0 825.6,1221.0 826.6,1220.1 827.6,1219.1 828.6,1218.1 829.6,1217.2 830.6,1216.3 831.6,1215.3 832.6,1214.4 833.6,1213.5 834.6,1212.6 835.6,1211.8 836.6,1210.9 837.6,1210.1 838.6,1209.2 839.6,1208.4 840.6,1207.6 841.6,1206.8 842.6,1206.0 843.6,1205.3 844.6,1204.5 845.6,1203.8 846.6,1203.1 847.6,1202.3 848.6,1201.6 849.6,1200.9 850.6,1200.2 851.6,1199.5 852.6,1198.8 853.6,1198.1 854.6,1197.4 855.6,1196.7 856.6,1196.0 857.6,1195.3 858.6,1194.7 859.6,1194.0 860.6,1193.4 861.6,1192.8 862.6,1192.2 863.6,1191.6 864.6,1191.1 865.6,1190.5 866.6,1190.0 867.6,1189.5 868.6,1188.9 869.6,1188.4 870.6,1187.8 871.6,1187.3 872.6,1186.7 873.6,1186.1 874.6,1185.5 875.6,1184.8 876.6,1184.2 877.6,1183.5 878.6,1182.8 879.6,1182.1 880.6,1181.4 881.6,1180.7 882.6,1180.0 883.6,1179.3 884.6,1178.7 885.6,1178.0 886.6,1177.3 887.6,1176.6 888.6,1175.9 889.6,1175.3 890.6,1174.6 891.6,1174.0 892.6,1173.4 893.6,1172.7 894.6,1172.1 895.6,1171.5 896.6,1170.9 897.6,1170.3 898.6,1169.7 899.6,1169.1 900.6,1168.5 901.6,1167.9 902.6,1167.3 903.6,1166.6 904.6,1166.0 905.6,1165.4 906.6,1164.8 907.6,1164.2 908.6,1163.6 909.6,1163.0 910.6,1162.4 911.6,1161.8 912.6,1161.2 913.6,1160.7 914.6,1160.1 915.6,1159.6 916.6,1159.1 917.6,1158.6 918.6,1158.1 919.6,1157.6 920.6,1157.2 921.6,1156.8 922.6,1156.5 923.6,1156.1 924.6,1155.8 925.6,1155.5 926.6,1155.3 927.6,1155.1 928.6,1154.9 929.6,1154.7 930.6,1154.6 931.6,1154.4 932.6,1154.3 933.6,1154.3 934.6,1154.2 935.6,1154.2 936.6,1154.1 937.6,1154.1 938.6,1154.2 939.6,1154.2 940.6,1154.3 941.6,1154.4 942.6,1154.5 943.6,1154.6 944.6,1154.8 945.6,1154.9 946.6,1155.1 947.6,1155.3 948.6,1155.6 949.6,1155.8 950.6,1156.1 951.6,1156.4 952.6,1156.7 953.6,1157.0 954.6,1157.3 955.6,1157.6 956.6,1158.0 957.6,1158.3 958.6,1158.6 959.6,1158.9 960.6,1159.3 961.6,1159.6 962.6,1159.9 963.6,1160.2 964.6,1160.5 965.6,1160.8 966.6,1161.2 967.6,1161.5 968.6,1161.8 969.6,1162.1 970.6,1162.5 971.6,1162.8 972.6,1163.2 973.6,1163.5 974.6,1163.9 975.6,1164.3 976.6,1164.7 977.6,1165.2 978.6,1165.6 979.6,1166.1 980.6,1166.6 981.6,1167.1 982.6,1167.7 983.6,1168.2 984.6,1168.8 985.6,1169.4 986.6,1170.0 987.6,1170.7 988.6,1171.3 989.6,1172.0 990.6,1172.6 991.6,1173.3 992.6,1174.0 993.6,1174.8 994.6,1175.5 995.6,1176.2 996.6,1177.0 997.6,1177.8 998.6,1178.6 999.6,1179.4 1000.6,1180.2 1001.6,1181.1 1002.6,1182.0 1003.6,1182.9 1004.6,1183.8 1005.6,1184.7 1006.6,1185.6 1007.6,1186.5 1008.6,1187.5 1009.6,1188.4 1010.6,1189.4 1011.6,1190.3 1012.6,1191.3 1013.6,1192.2 1014.6,1193.1 1015.6,1194.0 1016.6,1194.9 1017.6,1195.8 1018.6,1196.7 1019.6,1197.5 1020.6,1198.4 1021.6,1199.2 1022.6,1200.0 1023.6,1200.8 1024.6,1201.6 1025.6,1202.4 1026.6,1203.1 1027.6,1203.9 1028.6,1204.7 1029.6,1205.5 1030.6,1206.3 1031.6,1207.1 1032.6,1207.9 1033.6,1208.8 1034.6,1209.6 1035.6,1210.5 1036.6,1211.4 1037.6,1212.3 1038.6,1213.3 1039.6,1214.2 1040.6,1215.3 1041.6,1216.3 1042.6,1217.4 1043.6,1218.5 1044.6,1219.6 1045.6,1220.8 1046.6,1222.0 1047.6,1223.3 1048.6,1224.5 1049.6,1225.8 1050.6,1227.2 1051.6,1228.5 1052.6,1229.9 1053.6,1231.3 1054.6,1232.7 1055.6,1234.1 1056.6,1235.5 1057.6,1236.9 1058.6,1238.3 1059.6,1239.7 1060.6,1241.1 1061.6,1242.6 1062.6,1244.0 1063.6,1245.4 1064.6,1246.8 1065.6,1248.3 1066.6,1249.7 1067.6,1251.2 1068.6,1252.7 1069.6,1254.2 1070.6,1255.7 1071.6,1257.2 1072.6,1258.7 1073.6,1260.3 1074.6,1261.9 1075.6,1263.4 1076.6,1265.1 1077.6,1266.7 1078.6,1268.4 1079.6,1270.0 1080.6,1271.7 1081.6,1273.5 1082.6,1275.2 1083.6,1277.0 1084.6,1278.8 1085.6,1280.6 1086.6,1282.5 1087.6,1284.4 1088.6,1286.3 1089.6,1288.2 1090.6,1290.1 1091.6,1292.1 1092.6,1294.1 1093.6,1296.1 1094.6,1298.1 1095.6,1300.1 1096.6,1302.2 1097.6,1304.2 1098.6,1306.2 1099.6,1308.2 1100.6,1310.2 1101.6,1312.1 1102.6,1314.0 1103.6,1315.9 1104.6,1317.8 1105.6,1319.6 1106.6,1321.4 1107.6,1323.2 1108.6,1324.9 1109.6,1326.6 1110.6,1328.3 1111.6,1330.0 1112.6,1331.7 1113.6,1333.4 1114.6,1335.1 1115.6,1336.8 1116.6,1338.4 1117.6,1340.1 1118.6,1341.8 1119.6,1343.5 1120.6,1345.1 1121.6,1346.8 1122.6,1348.5 1123.6,1350.1 1124.6,1351.8 1125.6,1353.4 1126.6,1355.0 1127.6,1356.7 1128.6,1358.3 1129.6,1359.8 1130.6,1361.4 1131.6,1362.9 1132.6,1364.5 1133.6,1366.0 1134.6,1367.5 1135.6,1369.0 1136.6,1370.4 1137.6,1371.8 1138.6,1373.3 1139.6,1374.6 1140.6,1376.0 1141.6,1377.4 1142.6,1378.7 1143.6,1380.0 1144.6,1381.2 1145.6,1382.5 1146.6,1383.7 1147.6,1384.8 1148.6,1386.0 1149.6,1387.1 1150.6,1388.3 1151.6,1389.4 1152.6,1390.4 1153.6,1391.5 1154.6,1392.6 1155.6,1393.6 1156.6,1394.6 1157.6,1395.6 1158.6,1396.6 1159.6,1397.6 1160.6,1398.6 1161.6,1399.6 1162.6,1400.6 1163.6,1401.5 1164.6,1402.5 1165.6,1403.4 1166.6,1404.3 1167.6,1405.3 1168.6,1406.2 1169.6,1407.0 1170.6,1407.9 1171.6,1408.8 1172.6,1409.6 1173.6,1410.5 1174.6,1411.3 1175.6,1412.1 1176.6,1412.9 1177.6,1413.7 1178.6,1414.5 1179.6,1415.3 1180.6,1416.1 1181.6,1416.9 1182.6,1417.7 1183.6,1418.5 1184.6,1419.3 1185.6,1420.1 1186.6,1420.9 1187.6,1421.7 1188.6,1422.5 1189.6,1423.3 1190.6,1424.1 1191.6,1424.9 1192.6,1425.7 1193.6,1426.5 1194.6,1427.3 1195.6,1428.1 1196.6,1428.9 1197.6,1429.7 1198.6,1430.5 1199.6,1431.3 1200.6,1432.1 1201.6,1432.9 1202.6,1433.7 1203.6,1434.5 1204.6,1435.3 1205.6,1436.1 1206.6,1436.9 1207.6,1437.7 1208.6,1438.4 1209.6,1439.2 1210.6,1440.0 1211.6,1440.7 1212.6,1441.5 1213.6,1442.2 1214.6,1442.9 1215.6,1443.7 1216.6,1444.4 1217.6,1445.1 1218.6,1445.8 1219.6,1446.6 1220.6,1447.3 1221.6,1448.0 1222.6,1448.7 1223.6,1449.4 1224.6,1450.1 1225.6,1450.8 1226.6,1451.5 1227.6,1452.2 1228.6,1452.8 1229.6,1453.4 1230.6,1454.0 1231.6,1454.6 1232.6,1455.1 1233.6,1455.6 1234.6,1456.1 1235.6,1456.5 1236.6,1456.9 1237.6,1457.2 1238.6,1457.6 1239.6,1457.8 1240.6,1458.1 1241.6,1458.4 1242.6,1458.6 1243.6,1458.8 1244.6,1459.0 1245.6,1459.2 1246.6,1459.3 1247.6,1459.5 1248.6,1459.6 1249.6,1459.7 1250.6,1459.8 1251.6,1460.0 1252.6,1460.1 1253.6,1460.2 1254.6,1460.2 1255.6,1460.3 1256.6,1460.4 1257.6,1460.5 1258.6,1460.6 1259.6,1460.6 1260.6,1460.7 1261.6,1460.8 1262.6,1460.8 1263.6,1460.9 1264.6,1461.0 1265.6,1461.0 1266.6,1461.1 1267.6,1461.1 1268.6,1461.2 1269.6,1461.2 1270.6,1461.3 1271.6,1461.3 1272.6,1461.4 1273.6,1461.4 1274.6,1461.5 1275.6,1461.5 1276.6,1461.5 1277.6,1461.6 1278.6,1461.6 1279.6,1461.7 1280.6,1461.7 1281.6,1461.7 1282.6,1461.8 1283.6,1461.8 1284.6,1461.8 1285.6,1461.8 1286.6,1461.9 1287.6,1461.9 1288.6,1461.9 1289.6,1461.9 1290.6,1461.9 1291.6,1462.0 1292.6,1462.0 1293.6,1462.0 1294.6,1462.0 1295.6,1462.0 1296.6,1462.0 1297.6,1462.0 1298.6,1462.0 1299.6,1462.1 1300.6,1462.1 1301.6,1462.1 1302.6,1462.1 1303.6,1462.1 1304.6,1462.1 1305.6,1462.1 1306.6,1462.1 1307.6,1462.1 1308.6,1462.1 1309.6,1462.1 1310.6,1462.1 1311.6,1462.2 1312.6,1462.2 1313.6,1462.2 1314.6,1462.2 1315.6,1462.2 1316.6,1462.2 1317.6,1462.2 1318.6,1462.2 1319.6,1462.2 1320.6,1462.2 1321.6,1462.2 1322.6,1462.2 1323.6,1462.2 1324.6,1462.2 1325.6,1462.2 1326.6,1462.2 1327.6,1462.2 1328.6,1462.2 1329.6,1462.3 1330.6,1462.3 1331.6,1462.3 1332.6,1462.3 1333.6,1462.3 1334.6,1462.3 1335.6,1462.3 1336.6,1462.3 1337.6,1462.3 1338.6,1462.3 1339.6,1462.3 1340.6,1462.3 1341.6,1462.3 1342.6,1462.3 1343.6,1462.3 1344.6,1462.3 1345.6,1462.3 1346.6,1462.3 1347.6,1462.3 1348.6,1462.3 1349.6,1462.3 1350.6,1462.3 1351.6,1462.3 1352.6,1462.3 1353.6,1462.3 1354.6,1462.3 1355.6,1462.3 1356.6,1462.3 1357.6,1462.2 1358.6,1462.2 1359.6,1462.2 1360.6,1462.2 1361.6,1462.2 1362.6,1462.2 1363.6,1462.2 1364.6,1462.2 1365.6,1462.1 1366.6,1462.1 1367.6,1462.1 1368.6,1462.1 1369.6,1462.1 1370.6,1462.0 1371.6,1462.0 1372.6,1462.0 1373.6,1462.0 1374.6,1462.0 1375.6,1461.9 1376.6,1461.9 1377.6,1461.9 1378.6,1461.9 1379.6,1461.8 1380.6,1461.8 1381.6,1461.8 1382.6,1461.8 1383.6,1461.8 1384.6,1461.7 1385.6,1461.7 1386.6,1461.7 1387.6,1461.7 1388.6,1461.6 1389.6,1461.6 1390.6,1461.6 1391.6,1461.6 1392.6,1461.6 1393.6,1461.6 1394.6,1461.5 1395.6,1461.5 1396.6,1461.5 1397.6,1461.5 1398.6,1461.5 1399.6,1461.5 1400.6,1461.5 1401.6,1461.5 1402.6,1461.4 1403.6,1461.4 1404.6,1461.4 1405.6,1461.4 1406.6,1461.4 1407.6,1461.4 1408.6,1461.4 1409.6,1461.4 1410.6,1461.4 1411.6,1461.4 1412.6,1461.4 1413.6,1461.4 1414.6,1461.4 1415.6,1461.4 1416.6,1461.4 1417.6,1461.4 1418.6,1461.4 1419.6,1461.4 1420.6,1461.4 1421.6,1461.4 1422.6,1461.4 1423.6,1461.4 1424.6,1461.4 1425.6,1461.4 1426.6,1461.4 1427.6,1461.4 1428.6,1461.4 1429.6,1461.4 1430.6,1461.4 1431.6,1461.4 1432.6,1461.4 1433.6,1461.4 1434.6,1461.4 1435.6,1461.4 1436.6,1461.4 1437.6,1461.4 1438.6,1461.4 1439.6,1461.4 1440.6,1461.4 1441.6,1461.4 1442.6,1461.4 1443.6,1461.4 1444.6,1461.4 1445.6,1461.4 1446.6,1461.4 1447.6,1461.4 1448.6,1461.4 1449.6,1461.4 1450.6,1461.4 1451.6,1461.4 1452.6,1461.4 1453.6,1461.4 1454.6,1461.4 1455.6,1461.4 1456.6,1461.4 1457.6,1461.4 1458.6,1461.4 1459.6,1461.4 1460.6,1461.4 1461.6,1461.4 1462.6,1461.4 1463.6,1461.4 1464.6,1461.4 1465.6,1461.4 1466.6,1461.5 1467.6,1461.5 1468.6,1461.5 1469.6,1461.5 1470.6,1461.5 1471.6,1461.6 1472.6,1461.6 1473.6,1461.6 1474.6,1461.7 1475.6,1461.7 1476.6,1461.8 1477.6,1461.8 1478.6,1461.8 1479.6,1461.9 1480.6,1461.9 1481.6,1462.0 1482.6,1462.1 1483.6,1462.1 1484.6,1462.2 1485.6,1462.2 1486.6,1462.3 1487.6,1462.4 1488.6,1462.4 1489.6,1462.5 1490.6,1462.5 1491.6,1462.6 1492.6,1462.7 1493.6,1462.7 1494.6,1462.8 1495.6,1462.9 1496.6,1462.9 1497.6,1463.0 1498.6,1463.0 1499.6,1463.1 1500.6,1463.2 1501.6,1463.2 1502.6,1463.3 1503.6,1463.3 1504.6,1463.4 1505.6,1463.5 1506.6,1463.5 1507.6,1463.6 1508.6,1463.6 1509.6,1463.7 1510.6,1463.8 1511.6,1463.8 1512.6,1463.9 1513.6,1463.9 1514.6,1464.0 1515.6,1464.1 1516.6,1464.1 1517.6,1464.2 1518.6,1464.2 1519.6,1464.3 1520.6,1464.4 1521.6,1464.4 1522.6,1464.5 1523.6,1464.5 1524.6,1464.6 1525.6,1464.7 1526.6,1464.7 1527.6,1464.8 1528.6,1464.8 1529.6,1464.8 1530.6,1464.9 1531.6,1464.9 1532.6,1465.0 1533.6,1465.0 1534.6,1465.0 1535.6,1465.1 1536.6,1465.1 1537.6,1465.1 1538.6,1465.1 1539.6,1465.1 1540.6,1465.1 1541.6,1465.1 1542.6,1465.1 1543.6,1465.1 1544.6,1465.1 1545.6,1465.1 1546.6,1465.1 1547.6,1465.1 1548.6,1465.1 1549.6,1465.1 1550.6,1465.0 1551.6,1465.0 1552.6,1465.0 1553.6,1465.0 1554.6,1464.9 1555.6,1464.9 1556.6,1464.8 1557.6,1464.8 1558.6,1464.8 1559.6,1464.7 1560.6,1464.7 1561.6,1464.6 1562.6,1464.6 1563.6,1464.6 1564.6,1464.5 1565.6,1464.5 1566.6,1464.4 1567.6,1464.4 1568.6,1464.3 1569.6,1464.3 1570.6,1464.2 1571.6,1464.2 1572.6,1464.1 1573.6,1464.0 1574.6,1464.0 1575.6,1463.9 1576.6,1463.9 1577.6,1463.8 1578.6,1463.7 1579.6,1463.7 1580.6,1463.6 1581.6,1463.5 1582.6,1463.4 1583.6,1463.3 1584.6,1463.3 1585.6,1463.2 1586.6,1463.1 1587.6,1463.0 1588.6,1462.9 1589.6,1462.8 1590.6,1462.7 1591.6,1462.7 1592.6,1462.6 1593.6,1462.5 1594.6,1462.4 1595.6,1462.4 1596.6,1462.3 1597.6,1462.3 1598.6,1462.2 1599.6,1462.2 1600.6,1462.2 1601.6,1462.1 1602.6,1462.1 1603.6,1462.1 1604.6,1462.1 1605.6,1462.1 1606.6,1462.1 1607.6,1462.1 1608.6,1462.1 1609.6,1462.1 1610.6,1462.1 1611.6,1462.1 1612.6,1462.1 1613.6,1462.1 1614.6,1462.2 1615.6,1462.2 1616.6,1462.2 1617.6,1462.2 1618.6,1462.2 1619.6,1462.3 1620.6,1462.3 1621.6,1462.3 1622.6,1462.4 1623.6,1462.4 1624.6,1462.4 1625.6,1462.5 1626.6,1462.5 1627.6,1462.5 1628.6,1462.6 1629.6,1462.6 1630.6,1462.7 1631.6,1462.7 1632.6,1462.8 1633.6,1462.9 1634.6,1463.0 1635.6,1463.0 1636.6,1463.1 1637.6,1463.2 1638.6,1463.3 1639.6,1463.4 1640.6,1463.6 1641.6,1463.7 1642.6,1463.8 1643.6,1464.0 1644.6,1464.1 1645.6,1464.3 1646.6,1464.4 1647.6,1464.6 1648.6,1464.8 1649.6,1464.9 1650.6,1465.1 1651.6,1465.3 1652.6,1465.5 1653.6,1465.7 1654.6,1465.9 1655.6,1466.1 1656.6,1466.3 1657.6,1466.5 1658.6,1466.7 1659.6,1466.9 1660.6,1467.1 1661.6,1467.3 1662.6,1467.5 1663.6,1467.7 1664.6,1467.9 1665.6,1468.1 1666.6,1468.2 1667.6,1468.4 1668.6,1468.5 1669.6,1468.6 1670.6,1468.7 1671.6,1468.8 1672.6,1468.9 1673.6,1469.0 1674.6,1469.1 1675.6,1469.1 1676.6,1469.2 1677.6,1469.3 1678.6,1469.3 1679.6,1469.4 1680.6,1469.4 1681.6,1469.4 1682.6,1469.5 1683.6,1469.5 1684.6,1469.6 1685.6,1469.6 1686.6,1469.6 1687.6,1469.7 1688.6,1469.7 1689.6,1469.7 1690.6,1469.7 1691.6,1469.8 1692.6,1469.8 1693.6,1469.8 1694.6,1469.9 1695.6,1469.9 1696.6,1469.9 1697.6,1469.9 1698.6,1469.9 1699.6,1470.0 1700.6,1470.0 1701.6,1470.0 1702.6,1470.0 1703.6,1470.1 1704.6,1470.1 1705.6,1470.1 1706.6,1470.1 1707.6,1470.1 1708.6,1470.2 1709.6,1470.2 1710.6,1470.2 1711.6,1470.2 1712.6,1470.2 1713.6,1470.3 1714.6,1470.3 1715.6,1470.3 1716.6,1470.3 1717.6,1470.3 1718.6,1470.3 1719.6,1470.4 1720.6,1470.4 1721.6,1470.4 1722.6,1470.4 1723.6,1470.4 1724.6,1470.5 1725.6,1470.5 1726.6,1470.5 1727.6,1470.5 1728.6,1470.5 1729.6,1470.5 1730.6,1470.5 1731.6,1470.6 1732.6,1470.6 1733.6,1470.6 1734.6,1470.6 1735.6,1470.6 1736.6,1470.6 1737.6,1470.6 1738.6,1470.6 1739.6,1470.6 1740.6,1470.6 1741.6,1470.7 1742.6,1470.7 1743.6,1470.7 1744.6,1470.7 1745.6,1470.7 1746.6,1470.7 1747.6,1470.7 1748.6,1470.7 1749.6,1470.7 1750.6,1470.7 1751.6,1470.7 1752.6,1470.7 1753.6,1470.6 1754.6,1470.6 1755.6,1470.6 1756.6,1470.6 1757.6,1470.6 1758.6,1470.6 1759.6,1470.6 1760.6,1470.5 1761.6,1470.5 1762.6,1470.5 1763.6,1470.5 1764.6,1470.4 1765.6,1470.4 1766.6,1470.3 1767.6,1470.3 1768.6,1470.3 1769.6,1470.2 1770.6,1470.2 1771.6,1470.1 1772.6,1470.0 1773.6,1470.0 1774.6,1469.9 1775.6,1469.8 1776.6,1469.7 1777.6,1469.6 1778.6,1469.5 1779.6,1469.3 1780.6,1469.2 1781.6,1469.1 1782.6,1468.9 1783.6,1468.8 1784.6,1468.6 1785.6,1468.5 1786.6,1468.3 1787.6,1468.2 1788.6,1468.0 1789.6,1467.9 1790.6,1467.8 1791.6,1467.7 1792.6,1467.6 1793.6,1467.5 1794.6,1467.5 1795.6,1467.4 1796.6,1467.4 1797.6,1467.4 1798.6,1467.5 1799.6,1467.5 1800.6,1467.6 1801.6,1467.6 1802.6,1467.7 1803.6,1467.8 1804.6,1467.9 1805.6,1468.1 1806.6,1468.2 1807.6,1468.4 1808.6,1468.5 1809.6,1468.7 1810.6,1468.9 1811.6,1469.0 1812.6,1469.2 1813.6,1469.4 1814.6,1469.6 1815.6,1469.8 1816.6,1470.0 1817.6,1470.2 1818.6,1470.4 1819.6,1470.6 1820.6,1470.8 1821.6,1471.1 1822.6,1471.3 1823.6,1471.5 1823.8,1471.7"/>
<polyline class="c" stroke="#26c6c6" points="184.5,1450.0 192.2,1393.0 197.4,1349.0 204.0,1316.0 207.0,1306.0 211.0,1311.0 215.9,1319.5 219.0,1313.0 221.8,1304.0 225.5,1279.0 232.9,1223.4 242.1,1149.5 245.4,1120.0 247.3,1115.9 252.3,1108.0 257.2,1103.0 259.2,1088.2 260.7,1071.5 264.1,1068.5 269.0,1063.6 271.0,1048.8 273.0,1029.0 275.0,1009.3 276.9,994.5 280.9,983.7 284.8,992.6 288.8,999.5 294.7,1009.3 300.6,1005.4 301.6,989.6 303.5,971.0 306.9,936.0 311.5,928.6 317.0,938.8 321.7,926.8 337.4,925.0 342.0,888.0 349.4,867.6 354.9,897.2 358.6,923.1 367.9,922.2 372.5,913.9 379.0,932.4 384.5,921.3 393.8,920.3 397.5,947.1 401.2,973.0 406.7,954.5 414.1,932.4 424.1,941.1 425.1,942.1 426.1,943.1 427.1,944.2 428.1,945.2 429.1,946.3 430.1,947.3 431.1,948.4 432.1,949.5 433.1,950.6 434.1,951.7 435.1,952.8 436.1,954.0 437.1,955.1 438.1,956.3 439.1,957.4 440.1,958.6 441.1,959.8 442.1,960.9 443.1,962.1 444.1,963.3 445.1,964.4 446.1,965.6 447.1,966.7 448.1,967.8 449.1,968.9 450.1,970.0 451.1,971.1 452.1,972.1 453.1,973.2 454.1,974.2 455.1,975.2 456.1,976.3 457.1,977.3 458.1,978.3 459.1,979.3 460.1,980.3 461.1,981.3 462.1,982.3 463.1,983.3 464.1,984.3 465.1,985.3 466.1,986.3 467.1,987.3 468.1,988.3 469.1,989.3 470.1,990.3 471.1,991.3 472.1,992.3 473.1,993.3 474.1,994.3 475.1,995.3 476.1,996.3 477.1,997.3 478.1,998.3 479.1,999.3 480.1,1000.3 481.1,1001.2 482.1,1002.2 483.1,1003.2 484.1,1004.1 485.1,1005.1 486.1,1006.0 487.1,1006.9 488.1,1007.8 489.1,1008.7 490.1,1009.6 491.1,1010.5 492.1,1011.4 493.1,1012.2 494.1,1013.1 495.1,1014.0 496.1,1014.8 497.1,1015.7 498.1,1016.5 499.1,1017.4 500.1,1018.3 501.1,1019.2 502.1,1020.0 503.1,1020.9 504.1,1021.8 505.1,1022.6 506.1,1023.5 507.1,1024.4 508.1,1025.2 509.1,1026.1 510.1,1026.9 511.1,1027.7 512.1,1028.5 513.1,1029.3 514.1,1030.0 515.1,1030.8 516.1,1031.5 517.1,1032.3 518.1,1033.0 519.1,1033.7 520.1,1034.5 521.1,1035.2 522.1,1035.9 523.1,1036.7 524.1,1037.4 525.1,1038.1 526.1,1038.9 527.1,1039.7 528.1,1040.4 529.1,1041.2 530.1,1042.0 531.1,1042.7 532.1,1043.5 533.1,1044.3 534.1,1045.1 535.1,1045.8 536.1,1046.6 537.1,1047.3 538.1,1048.1 539.1,1048.8 540.1,1049.6 541.1,1050.3 542.1,1051.0 543.1,1051.8 544.1,1052.5 545.1,1053.2 546.1,1053.9 547.1,1054.7 548.1,1055.4 549.1,1056.1 550.1,1056.9 551.1,1057.6 552.1,1058.4 553.1,1059.2 554.1,1059.9 555.1,1060.7 556.1,1061.5 557.1,1062.3 558.1,1063.1 559.1,1063.9 560.1,1064.7 561.1,1065.6 562.1,1066.4 563.1,1067.2 564.1,1068.0 565.1,1068.9 566.1,1069.7 567.1,1070.6 568.1,1071.4 569.1,1072.3 570.1,1073.2 571.1,1074.1 572.1,1075.0 573.1,1075.9 574.1,1076.8 575.1,1077.7 576.1,1078.7 577.1,1079.6 578.1,1080.6 579.1,1081.6 580.1,1082.5 581.1,1083.5 582.1,1084.5 583.1,1085.5 584.1,1086.4 585.1,1087.4 586.1,1088.4 587.1,1089.3 588.1,1090.3 589.1,1091.2 590.1,1092.1 591.1,1093.1 592.1,1094.0 593.1,1095.0 594.1,1095.9 595.1,1096.9 596.1,1097.8 597.1,1098.8 598.1,1099.8 599.1,1100.8 600.1,1101.8 601.1,1102.8 602.1,1103.8 603.1,1104.9 604.1,1105.9 605.1,1107.0 606.1,1108.0 607.1,1109.1 608.1,1110.1 609.1,1111.2 610.1,1112.3 611.1,1113.3 612.1,1114.4 613.1,1115.4 614.1,1116.4 615.1,1117.5 616.1,1118.5 617.1,1119.5 618.1,1120.6 619.1,1121.6 620.1,1122.6 621.1,1123.7 622.1,1124.7 623.1,1125.8 624.1,1126.8 625.1,1127.9 626.1,1128.9 627.1,1130.0 628.1,1131.1 629.1,1132.2 630.1,1133.2 631.1,1134.3 632.1,1135.4 633.1,1136.5 634.1,1137.6 635.1,1138.7 636.1,1139.8 637.1,1140.9 638.1,1142.0 639.1,1143.1 640.1,1144.2 641.1,1145.3 642.1,1146.4 643.1,1147.6 644.1,1148.7 645.1,1149.9 646.1,1151.0 647.1,1152.2 648.1,1153.4 649.1,1154.6 650.1,1155.8 651.1,1157.1 652.1,1158.3 653.1,1159.6 654.1,1160.8 655.1,1162.1 656.1,1163.4 657.1,1164.7 658.1,1165.9 659.1,1167.2 660.1,1168.5 661.1,1169.7 662.1,1171.0 663.1,1172.2 664.1,1173.4 665.1,1174.7 666.1,1175.9 667.1,1177.1 668.1,1178.2 669.1,1179.4 670.1,1180.6 671.1,1181.7 672.1,1182.9 673.1,1184.0 674.1,1185.1 675.1,1186.2 676.1,1187.3 677.1,1188.4 678.1,1189.5 679.1,1190.6 680.1,1191.7 681.1,1192.8 682.1,1193.9 683.1,1195.0 684.1,1196.1 685.1,1197.2 686.1,1198.3 687.1,1199.3 688.1,1200.4 689.1,1201.5 690.1,1202.6 691.1,1203.7 692.1,1204.7 693.1,1205.8 694.1,1206.8 695.1,1207.9 696.1,1208.9 697.1,1209.9 698.1,1210.9 699.1,1211.9 700.1,1212.8 701.1,1213.8 702.1,1214.7 703.1,1215.6 704.1,1216.5 705.1,1217.4 706.1,1218.3 707.1,1219.1 708.1,1220.0 709.1,1220.8 710.1,1221.5 711.1,1222.3 712.1,1223.0 713.1,1223.7 714.1,1224.4 715.1,1225.0 716.1,1225.6 717.1,1226.2 718.1,1226.8 719.1,1227.3 720.1,1227.8 721.1,1228.3 722.1,1228.7 723.1,1229.1 724.1,1229.5 725.1,1229.9 726.1,1230.3 727.1,1230.6 728.1,1230.9 729.1,1231.2 730.1,1231.4 731.1,1231.7 732.1,1231.9 733.1,1232.1 734.1,1232.3 735.1,1232.4 736.1,1232.6 737.1,1232.7 738.1,1232.8 739.1,1232.9 740.1,1233.0 741.1,1233.1 742.1,1233.1 743.1,1233.1 744.1,1233.1 745.1,1233.1 746.1,1233.1 747.1,1233.1 748.1,1233.0 749.1,1233.0 750.1,1232.9 751.1,1232.9 752.1,1232.8 753.1,1232.7 754.1,1232.6 755.1,1232.4 756.1,1232.3 757.1,1232.2 758.1,1232.0 759.1,1231.8 760.1,1231.6 761.1,1231.4 762.1,1231.2 763.1,1230.9 764.1,1230.7 765.1,1230.4 766.1,1230.1 767.1,1229.7 768.1,1229.4 769.1,1229.0 770.1,1228.6 771.1,1228.2 772.1,1227.8 773.1,1227.3 774.1,1226.9 775.1,1226.4 776.1,1225.9 777.1,1225.4 778.1,1224.9 779.1,1224.3 780.1,1223.8 781.1,1223.2 782.1,1222.7 783.1,1222.1 784.1,1221.5 785.1,1221.0 786.1,1220.4 787.1,1219.8 788.1,1219.2 789.1,1218.7 790.1,1218.1 791.1,1217.6 792.1,1217.0 793.1,1216.5 794.1,1215.9 795.1,1215.4 796.1,1214.9 797.1,1214.3 798.1,1213.8 799.1,1213.3 800.1,1212.7 801.1,1212.2 802.1,1211.7 803.1,1211.1 804.1,1210.6 805.1,1210.0 806.1,1209.4 807.1,1208.9 808.1,1208.3 809.1,1207.7 810.1,1207.1 811.1,1206.5 812.1,1205.9 813.1,1205.3 814.1,1204.7 815.1,1204.1 816.1,1203.5 817.1,1202.9 818.1,1202.3 819.1,1201.7 820.1,1201.1 821.1,1200.5 822.1,1199.9 823.1,1199.3 824.1,1198.8 825.1,1198.2 826.1,1197.6 827.1,1197.1 828.1,1196.5 829.1,1196.0 830.1,1195.5 831.1,1194.9 832.1,1194.4 833.1,1193.9 834.1,1193.4 835.1,1192.9 836.1,1192.4 837.1,1191.9 838.1,1191.4 839.1,1190.9 840.1,1190.4 841.1,1189.9 842.1,1189.4 843.1,1188.9 844.1,1188.4 845.1,1187.8 846.1,1187.3 847.1,1186.8 848.1,1186.3 849.1,1185.8 850.1,1185.3 851.1,1184.7 852.1,1184.2 853.1,1183.7 854.1,1183.2 855.1,1182.7 856.1,1182.2 857.1,1181.7 858.1,1181.2 859.1,1180.8 860.1,1180.3 861.1,1179.9 862.1,1179.6 863.1,1179.2 864.1,1178.9 865.1,1178.5 866.1,1178.2 867.1,1177.9 868.1,1177.6 869.1,1177.3 870.1,1176.9 871.1,1176.6 872.1,1176.2 873.1,1175.7 874.1,1175.3 875.1,1174.8 876.1,1174.3 877.1,1173.8 878.1,1173.3 879.1,1172.7 880.1,1172.2 881.1,1171.6 882.1,1171.1 883.1,1170.6 884.1,1170.0 885.1,1169.5 886.1,1169.0 887.1,1168.5 888.1,1168.0 889.1,1167.6 890.1,1167.1 891.1,1166.7 892.1,1166.2 893.1,1165.8 894.1,1165.4 895.1,1165.0 896.1,1164.6 897.1,1164.2 898.1,1163.8 899.1,1163.5 900.1,1163.1 901.1,1162.8 902.1,1162.5 903.1,1162.1 904.1,1161.8 905.1,1161.5 906.1,1161.3 907.1,1161.0 908.1,1160.7 909.1,1160.5 910.1,1160.2 911.1,1160.0 912.1,1159.7 913.1,1159.5 914.1,1159.3 915.1,1159.1 916.1,1158.9 917.1,1158.7 918.1,1158.6 919.1,1158.4 920.1,1158.2 921.1,1158.1 922.1,1157.9 923.1,1157.8 924.1,1157.7 925.1,1157.6 926.1,1157.4 927.1,1157.3 928.1,1157.2 929.1,1157.1 930.1,1157.0 931.1,1156.9 932.1,1156.8 933.1,1156.7 934.1,1156.6 935.1,1156.5 936.1,1156.5 937.1,1156.4 938.1,1156.3 939.1,1156.2 940.1,1156.1 941.1,1156.0 942.1,1156.0 943.1,1155.9 944.1,1155.8 945.1,1155.7 946.1,1155.7 947.1,1155.6 948.1,1155.5 949.1,1155.5 950.1,1155.4 951.1,1155.4 952.1,1155.3 953.1,1155.3 954.1,1155.2 955.1,1155.2 956.1,1155.2 957.1,1155.2 958.1,1155.2 959.1,1155.2 960.1,1155.2 961.1,1155.2 962.1,1155.2 963.1,1155.2 964.1,1155.3 965.1,1155.3 966.1,1155.3 967.1,1155.4 968.1,1155.5 969.1,1155.5 970.1,1155.6 971.1,1155.6 972.1,1155.7 973.1,1155.8 974.1,1155.9 975.1,1155.9 976.1,1156.0 977.1,1156.1 978.1,1156.2 979.1,1156.3 980.1,1156.3 981.1,1156.4 982.1,1156.5 983.1,1156.6 984.1,1156.7 985.1,1156.8 986.1,1156.9 987.1,1157.0 988.1,1157.1 989.1,1157.2 990.1,1157.3 991.1,1157.4 992.1,1157.5 993.1,1157.6 994.1,1157.8 995.1,1157.9 996.1,1158.0 997.1,1158.1 998.1,1158.3 999.1,1158.4 1000.1,1158.5 1001.1,1158.7 1002.1,1158.8 1003.1,1159.0 1004.1,1159.1 1005.1,1159.3 1006.1,1159.4 1007.1,1159.6 1008.1,1159.8 1009.1,1160.0 1010.1,1160.2 1011.1,1160.4 1012.1,1160.6 1013.1,1160.8 1014.1,1161.0 1015.1,1161.2 1016.1,1161.4 1017.1,1161.7 1018.1,1161.9 1019.1,1162.2 1020.1,1162.5 1021.1,1162.8 1022.1,1163.0 1023.1,1163.3 1024.1,1163.7 1025.1,1164.0 1026.1,1164.3 1027.1,1164.6 1028.1,1164.9 1029.1,1165.3 1030.1,1165.6 1031.1,1166.0 1032.1,1166.3 1033.1,1166.6 1034.1,1167.0 1035.1,1167.3 1036.1,1167.7 1037.1,1168.1 1038.1,1168.4 1039.1,1168.8 1040.1,1169.2 1041.1,1169.6 1042.1,1170.0 1043.1,1170.4 1044.1,1170.8 1045.1,1171.2 1046.1,1171.7 1047.1,1172.1 1048.1,1172.6 1049.1,1173.0 1050.1,1173.5 1051.1,1174.0 1052.1,1174.5 1053.1,1175.0 1054.1,1175.6 1055.1,1176.1 1056.1,1176.6 1057.1,1177.2 1058.1,1177.7 1059.1,1178.3 1060.1,1178.9 1061.1,1179.5 1062.1,1180.1 1063.1,1180.7 1064.1,1181.3 1065.1,1181.9 1066.1,1182.5 1067.1,1183.2 1068.1,1183.8 1069.1,1184.5 1070.1,1185.2 1071.1,1185.8 1072.1,1186.5 1073.1,1187.2 1074.1,1188.0 1075.1,1188.7 1076.1,1189.4 1077.1,1190.2 1078.1,1190.9 1079.1,1191.7 1080.1,1192.5 1081.1,1193.3 1082.1,1194.1 1083.1,1194.9 1084.1,1195.7 1085.1,1196.5 1086.1,1197.3 1087.1,1198.2 1088.1,1199.1 1089.1,1199.9 1090.1,1200.8 1091.1,1201.8 1092.1,1202.7 1093.1,1203.6 1094.1,1204.6 1095.1,1205.6 1096.1,1206.6 1097.1,1207.6 1098.1,1208.7 1099.1,1209.8 1100.1,1210.8 1101.1,1211.9 1102.1,1213.0 1103.1,1214.2 1104.1,1215.3 1105.1,1216.4 1106.1,1217.6 1107.1,1218.8 1108.1,1219.9 1109.1,1221.1 1110.1,1222.3 1111.1,1223.5 1112.1,1224.7 1113.1,1225.9 1114.1,1227.1 1115.1,1228.3 1116.1,1229.5 1117.1,1230.7 1118.1,1231.9 1119.1,1233.1 1120.1,1234.3 1121.1,1235.5 1122.1,1236.7 1123.1,1237.9 1124.1,1239.1 1125.1,1240.2 1126.1,1241.4 1127.1,1242.6 1128.1,1243.7 1129.1,1244.9 1130.1,1246.0 1131.1,1247.1 1132.1,1248.2 1133.1,1249.3 1134.1,1250.4 1135.1,1251.5 1136.1,1252.6 1137.1,1253.7 1138.1,1254.8 1139.1,1255.8 1140.1,1256.9 1141.1,1258.0 1142.1,1259.1 1143.1,1260.2 1144.1,1261.3 1145.1,1262.4 1146.1,1263.5 1147.1,1264.6 1148.1,1265.8 1149.1,1266.9 1150.1,1268.1 1151.1,1269.2 1152.1,1270.4 1153.1,1271.6 1154.1,1272.8 1155.1,1274.0 1156.1,1275.2 1157.1,1276.5 1158.1,1277.7 1159.1,1278.9 1160.1,1280.2 1161.1,1281.4 1162.1,1282.7 1163.1,1284.0 1164.1,1285.2 1165.1,1286.5 1166.1,1287.7 1167.1,1288.9 1168.1,1290.2 1169.1,1291.4 1170.1,1292.6 1171.1,1293.8 1172.1,1295.0 1173.1,1296.2 1174.1,1297.4 1175.1,1298.6 1176.1,1299.7 1177.1,1300.9 1178.1,1302.0 1179.1,1303.2 1180.1,1304.3 1181.1,1305.4 1182.1,1306.6 1183.1,1307.7 1184.1,1308.8 1185.1,1309.9 1186.1,1311.0 1187.1,1312.1 1188.1,1313.2 1189.1,1314.3 1190.1,1315.4 1191.1,1316.4 1192.1,1317.5 1193.1,1318.6 1194.1,1319.6 1195.1,1320.7 1196.1,1321.7 1197.1,1322.8 1198.1,1323.8 1199.1,1324.8 1200.1,1325.9 1201.1,1326.9 1202.1,1327.9 1203.1,1328.9 1204.1,1329.8 1205.1,1330.8 1206.1,1331.8 1207.1,1332.7 1208.1,1333.7 1209.1,1334.6 1210.1,1335.5 1211.1,1336.5 1212.1,1337.4 1213.1,1338.3 1214.1,1339.1 1215.1,1340.0 1216.1,1340.9 1217.1,1341.7 1218.1,1342.6 1219.1,1343.4 1220.1,1344.2 1221.1,1345.0 1222.1,1345.8 1223.1,1346.6 1224.1,1347.3 1225.1,1348.1 1226.1,1348.8 1227.1,1349.6 1228.1,1350.3 1229.1,1351.0 1230.1,1351.7 1231.1,1352.4 1232.1,1353.1 1233.1,1353.7 1234.1,1354.4 1235.1,1355.0 1236.1,1355.7 1237.1,1356.3 1238.1,1356.9 1239.1,1357.6 1240.1,1358.2 1241.1,1358.8 1242.1,1359.3 1243.1,1359.9 1244.1,1360.5 1245.1,1361.1 1246.1,1361.6 1247.1,1362.2 1248.1,1362.7 1249.1,1363.3 1250.1,1363.8 1251.1,1364.3 1252.1,1364.8 1253.1,1365.4 1254.1,1365.9 1255.1,1366.4 1256.1,1366.9 1257.1,1367.4 1258.1,1367.9 1259.1,1368.3 1260.1,1368.8 1261.1,1369.3 1262.1,1369.8 1263.1,1370.2 1264.1,1370.7 1265.1,1371.1 1266.1,1371.5 1267.1,1372.0 1268.1,1372.4 1269.1,1372.8 1270.1,1373.2 1271.1,1373.6 1272.1,1373.9 1273.1,1374.3 1274.1,1374.6 1275.1,1375.0 1276.1,1375.3 1277.1,1375.6 1278.1,1376.0 1279.1,1376.3 1280.1,1376.6 1281.1,1376.9 1282.1,1377.1 1283.1,1377.4 1284.1,1377.7 1285.1,1377.9 1286.1,1378.2 1287.1,1378.4 1288.1,1378.7 1289.1,1378.9 1290.1,1379.1 1291.1,1379.3 1292.1,1379.5 1293.1,1379.7 1294.1,1379.9 1295.1,1380.1 1296.1,1380.3 1297.1,1380.5 1298.1,1380.6 1299.1,1380.8 1300.1,1381.0 1301.1,1381.2 1302.1,1381.3 1303.1,1381.5 1304.1,1381.6 1305.1,1381.8 1306.1,1381.9 1307.1,1382.1 1308.1,1382.2 1309.1,1382.4 1310.1,1382.5 1311.1,1382.7 1312.1,1382.8 1313.1,1383.0 1314.1,1383.1 1315.1,1383.2 1316.1,1383.4 1317.1,1383.5 1318.1,1383.6 1319.1,1383.7 1320.1,1383.9 1321.1,1384.0 1322.1,1384.1 1323.1,1384.2 1324.1,1384.3 1325.1,1384.4 1326.1,1384.5 1327.1,1384.6 1328.1,1384.6 1329.1,1384.7 1330.1,1384.8 1331.1,1384.9 1332.1,1384.9 1333.1,1385.0 1334.1,1385.1 1335.1,1385.2 1336.1,1385.2 1337.1,1385.3 1338.1,1385.4 1339.1,1385.5 1340.1,1385.5 1341.1,1385.6 1342.1,1385.7 1343.1,1385.8 1344.1,1385.8 1345.1,1385.9 1346.1,1386.0 1347.1,1386.0 1348.1,1386.1 1349.1,1386.2 1350.1,1386.2 1351.1,1386.3 1352.1,1386.3 1353.1,1386.3 1354.1,1386.4 1355.1,1386.4 1356.1,1386.4 1357.1,1386.5 1358.1,1386.5 1359.1,1386.5 1360.1,1386.5 1361.1,1386.5 1362.1,1386.5 1363.1,1386.5 1364.1,1386.6 1365.1,1386.6 1366.1,1386.6 1367.1,1386.6 1368.1,1386.6 1369.1,1386.6 1370.1,1386.6 1371.1,1386.6 1372.1,1386.6 1373.1,1386.6 1374.1,1386.6 1375.1,1386.7 1376.1,1386.7 1377.1,1386.7 1378.1,1386.7 1379.1,1386.7 1380.1,1386.7 1381.1,1386.7 1382.1,1386.7 1383.1,1386.7 1384.1,1386.7 1385.1,1386.7 1386.1,1386.7 1387.1,1386.7 1388.1,1386.7 1389.1,1386.7 1390.1,1386.7 1391.1,1386.7 1392.1,1386.7 1393.1,1386.7 1394.1,1386.7 1395.1,1386.7 1396.1,1386.8 1397.1,1386.8 1398.1,1386.8 1399.1,1386.8 1400.1,1386.8 1401.1,1386.8 1402.1,1386.8 1403.1,1386.8 1404.1,1386.8 1405.1,1386.8 1406.1,1386.8 1407.1,1386.8 1408.1,1386.8 1409.1,1386.8 1410.1,1386.8 1411.1,1386.8 1412.1,1386.8 1413.1,1386.8 1414.1,1386.8 1415.1,1386.8 1416.1,1386.8 1417.1,1386.8 1418.1,1386.8 1419.1,1386.8 1420.1,1386.8 1421.1,1386.8 1422.1,1386.8 1423.1,1386.8 1424.1,1386.8 1425.1,1386.9 1426.1,1386.9 1427.1,1386.9 1428.1,1386.9 1429.1,1386.9 1430.1,1386.9 1431.1,1386.9 1432.1,1386.9 1433.1,1386.9 1434.1,1386.9 1435.1,1386.9 1436.1,1386.9 1437.1,1386.9 1438.1,1386.9 1439.1,1386.9 1440.1,1387.0 1441.1,1387.0 1442.1,1387.0 1443.1,1387.0 1444.1,1387.0 1445.1,1387.0 1446.1,1387.0 1447.1,1387.0 1448.1,1387.0 1449.1,1387.0 1450.1,1387.1 1451.1,1387.1 1452.1,1387.1 1453.1,1387.1 1454.1,1387.1 1455.1,1387.1 1456.1,1387.2 1457.1,1387.2 1458.1,1387.2 1459.1,1387.2 1460.1,1387.2 1461.1,1387.3 1462.1,1387.3 1463.1,1387.3 1464.1,1387.3 1465.1,1387.4 1466.1,1387.4 1467.1,1387.4 1468.1,1387.4 1469.1,1387.5 1470.1,1387.5 1471.1,1387.5 1472.1,1387.5 1473.1,1387.6 1474.1,1387.6 1475.1,1387.6 1476.1,1387.7 1477.1,1387.7 1478.1,1387.7 1479.1,1387.8 1480.1,1387.8 1481.1,1387.8 1482.1,1387.8 1483.1,1387.9 1484.1,1387.9 1485.1,1387.9 1486.1,1388.0 1487.1,1388.0 1488.1,1388.0 1489.1,1388.1 1490.1,1388.1 1491.1,1388.1 1492.1,1388.2 1493.1,1388.2 1494.1,1388.3 1495.1,1388.3 1496.1,1388.3 1497.1,1388.4 1498.1,1388.4 1499.1,1388.4 1500.1,1388.5 1501.1,1388.5 1502.1,1388.5 1503.1,1388.6 1504.1,1388.6 1505.1,1388.6 1506.1,1388.7 1507.1,1388.7 1508.1,1388.8 1509.1,1388.8 1510.1,1388.8 1511.1,1388.9 1512.1,1388.9 1513.1,1388.9 1514.1,1389.0 1515.1,1389.0 1516.1,1389.0 1517.1,1389.1 1518.1,1389.1 1519.1,1389.1 1520.1,1389.2 1521.1,1389.2 1522.1,1389.2 1523.1,1389.3 1524.1,1389.3 1525.1,1389.3 1526.1,1389.4 1527.1,1389.4 1528.1,1389.4 1529.1,1389.5 1530.1,1389.5 1531.1,1389.5 1532.1,1389.5 1533.1,1389.6 1534.1,1389.6 1535.1,1389.6 1536.1,1389.7 1537.1,1389.7 1538.1,1389.7 1539.1,1389.7 1540.1,1389.8 1541.1,1389.8 1542.1,1389.8 1543.1,1389.8 1544.1,1389.8 1545.1,1389.9 1546.1,1389.9 1547.1,1389.9 1548.1,1389.9 1549.1,1389.9 1550.1,1390.0 1551.1,1390.0 1552.1,1390.0 1553.1,1390.0 1554.1,1390.0 1555.1,1390.1 1556.1,1390.1 1557.1,1390.1 1558.1,1390.1 1559.1,1390.1 1560.1,1390.1 1561.1,1390.2 1562.1,1390.2 1563.1,1390.2 1564.1,1390.2 1565.1,1390.2 1566.1,1390.2 1567.1,1390.3 1568.1,1390.3 1569.1,1390.3 1570.1,1390.3 1571.1,1390.3 1572.1,1390.3 1573.1,1390.4 1574.1,1390.4 1575.1,1390.4 1576.1,1390.4 1577.1,1390.5 1578.1,1390.5 1579.1,1390.5 1580.1,1390.5 1581.1,1390.6 1582.1,1390.6 1583.1,1390.6 1584.1,1390.6 1585.1,1390.7 1586.1,1390.7 1587.1,1390.8 1588.1,1390.8 1589.1,1390.8 1590.1,1390.9 1591.1,1390.9 1592.1,1391.0 1593.1,1391.1 1594.1,1391.1 1595.1,1391.2 1596.1,1391.3 1597.1,1391.3 1598.1,1391.4 1599.1,1391.5 1600.1,1391.6 1601.1,1391.7 1602.1,1391.8 1603.1,1391.9 1604.1,1392.0 1605.1,1392.1 1606.1,1392.2 1607.1,1392.3 1608.1,1392.5 1609.1,1392.6 1610.1,1392.7 1611.1,1392.8 1612.1,1392.9 1613.1,1393.1 1614.1,1393.2 1615.1,1393.3 1616.1,1393.5 1617.1,1393.6 1618.1,1393.8 1619.1,1393.9 1620.1,1394.1 1621.1,1394.2 1622.1,1394.4 1623.1,1394.5 1624.1,1394.7 1625.1,1394.9 1626.1,1395.1 1627.1,1395.2 1628.1,1395.4 1629.1,1395.6 1630.1,1395.8 1631.1,1396.0 1632.1,1396.2 1633.1,1396.4 1634.1,1396.6 1635.1,1396.8 1636.1,1397.0 1637.1,1397.2 1638.1,1397.4 1639.1,1397.7 1640.1,1397.9 1641.1,1398.1 1642.1,1398.3 1643.1,1398.6 1644.1,1398.8 1645.1,1399.1 1646.1,1399.3 1647.1,1399.6 1648.1,1399.8 1649.1,1400.1 1650.1,1400.4 1651.1,1400.6 1652.1,1400.9 1653.1,1401.2 1654.1,1401.5 1655.1,1401.8 1656.1,1402.1 1657.1,1402.4 1658.1,1402.7 1659.1,1403.0 1660.1,1403.3 1661.1,1403.6 1662.1,1403.9 1663.1,1404.2 1664.1,1404.5 1665.1,1404.8 1666.1,1405.2 1667.1,1405.5 1668.1,1405.8 1669.1,1406.2 1670.1,1406.5 1671.1,1406.9 1672.1,1407.2 1673.1,1407.6 1674.1,1407.9 1675.1,1408.3 1676.1,1408.6 1677.1,1409.0 1678.1,1409.4 1679.1,1409.7 1680.1,1410.1 1681.1,1410.4 1682.1,1410.8 1683.1,1411.1 1684.1,1411.5 1685.1,1411.8 1686.1,1412.1 1687.1,1412.4 1688.1,1412.8 1689.1,1413.1 1690.1,1413.4 1691.1,1413.7 1692.1,1414.0 1693.1,1414.3 1694.1,1414.6 1695.1,1414.9 1696.1,1415.2 1697.1,1415.4 1698.1,1415.7 1699.1,1416.0 1700.1,1416.3 1701.1,1416.6 1702.1,1416.8 1703.1,1417.1 1704.1,1417.4 1705.1,1417.6 1706.1,1417.9 1707.1,1418.2 1708.1,1418.4 1709.1,1418.7 1710.1,1419.0 1711.1,1419.2 1712.1,1419.5 1713.1,1419.8 1714.1,1420.0 1715.1,1420.3 1716.1,1420.6 1717.1,1420.9 1718.1,1421.1 1719.1,1421.4 1720.1,1421.7 1721.1,1421.9 1722.1,1422.2 1723.1,1422.5 1724.1,1422.8 1725.1,1423.0 1726.1,1423.3 1727.1,1423.6 1728.1,1423.8 1729.1,1424.1 1730.1,1424.4 1731.1,1424.7 1732.1,1424.9 1733.1,1425.2 1734.1,1425.5 1735.1,1425.8 1736.1,1426.1 1737.1,1426.4 1738.1,1426.7 1739.1,1426.9 1740.1,1427.2 1741.1,1427.5 1742.1,1427.8 1743.1,1428.1 1744.1,1428.4 1745.1,1428.7 1746.1,1429.0 1747.1,1429.3 1748.1,1429.6 1749.1,1429.9 1750.1,1430.2 1751.1,1430.5 1752.1,1430.8 1753.1,1431.1 1754.1,1431.4 1755.1,1431.7 1756.1,1432.0 1757.1,1432.4 1758.1,1432.7 1759.1,1433.0 1760.1,1433.3 1761.1,1433.6 1762.1,1433.9 1763.1,1434.2 1764.1,1434.5 1765.1,1434.8 1766.1,1435.1 1767.1,1435.4 1768.1,1435.7 1769.1,1436.0 1770.1,1436.3 1771.1,1436.6 1772.1,1436.9 1773.1,1437.2 1774.1,1437.4 1775.1,1437.7 1776.1,1438.0 1777.1,1438.3 1778.1,1438.6 1779.1,1438.9 1780.1,1439.2 1781.1,1439.4 1782.1,1439.7 1783.1,1440.0 1784.1,1440.2 1785.1,1440.5 1786.1,1440.7 1787.1,1441.0 1788.1,1441.2 1789.1,1441.5 1790.1,1441.7 1791.1,1441.9 1792.1,1442.1 1793.1,1442.4 1794.1,1442.6 1795.1,1442.8 1796.1,1443.0 1797.1,1443.2 1798.1,1443.4 1799.1,1443.6 1800.1,1443.7 1801.1,1443.9 1802.1,1444.1 1803.1,1444.3 1804.1,1444.4 1805.1,1444.6 1806.1,1444.8 1807.1,1444.9 1808.1,1445.1 1809.1,1445.2 1810.1,1445.4 1811.1,1445.5 1812.1,1445.6 1813.1,1445.8 1814.1,1445.9 1815.1,1446.0 1816.1,1446.2 1817.1,1446.3 1818.1,1446.4 1819.1,1446.5 1820.1,1446.7 1821.1,1446.8 1822.1,1446.9 1823.1,1447.0 1824.1,1447.1 1825.1,1447.2 1826.1,1447.4 1827.1,1447.5 1828.1,1447.6 1829.1,1447.7 1830.1,1447.8 1831.1,1447.9 1832.1,1448.0 1833.1,1448.1 1834.1,1448.2 1835.1,1448.3 1836.1,1448.4 1837.1,1448.5 1838.1,1448.6 1839.1,1448.7 1840.1,1448.8 1841.1,1448.9 1842.1,1449.0 1843.1,1449.1 1844.1,1449.2 1845.1,1449.3 1846.1,1449.4 1847.1,1449.5 1848.1,1449.6 1849.1,1449.7 1850.1,1449.8 1851.1,1449.9 1852.1,1450.0 1853.1,1450.1 1854.1,1450.2 1855.1,1450.3 1856.1,1450.4 1857.1,1450.5 1858.1,1450.6 1859.1,1450.7 1860.1,1450.8 1861.1,1450.9 1862.1,1451.0 1863.1,1451.1 1864.1,1451.2 1865.1,1451.3 1866.1,1451.4 1867.1,1451.5 1868.1,1451.6 1869.1,1451.7 1870.1,1451.8 1871.1,1451.9 1872.1,1452.0 1873.1,1452.1 1874.1,1452.2 1875.1,1452.3 1876.1,1452.4 1877.1,1452.5 1878.1,1452.6 1879.1,1452.7 1880.1,1452.8 1881.1,1452.9 1882.1,1453.0 1883.1,1453.1 1884.1,1453.2 1885.1,1453.3 1886.1,1453.4 1887.1,1453.6 1888.1,1453.7 1889.1,1453.8 1890.1,1453.9 1891.1,1454.0 1892.1,1454.1 1893.1,1454.2 1894.1,1454.4 1895.1,1454.5 1896.1,1454.6 1897.1,1454.7 1898.1,1454.8 1899.1,1455.0 1900.1,1455.1 1901.1,1455.2 1902.1,1455.3 1903.1,1455.5 1904.1,1455.6 1905.1,1455.7 1906.1,1455.8 1907.1,1456.0 1908.1,1456.1 1909.1,1456.2 1910.1,1456.4 1911.1,1456.5 1912.1,1456.6 1913.1,1456.7 1914.1,1456.9 1915.1,1457.0 1916.1,1457.1 1917.1,1457.3 1918.1,1457.4 1919.1,1457.5 1920.1,1457.7 1921.1,1457.8 1922.1,1457.9 1923.1,1458.0 1924.1,1458.2 1925.1,1458.3 1926.1,1458.4 1927.1,1458.5 1928.1,1458.7 1929.1,1458.8 1930.1,1458.9 1931.1,1459.1 1932.1,1459.2 1933.1,1459.3 1934.1,1459.4 1935.1,1459.6 1936.1,1459.7 1937.1,1459.8 1938.1,1459.9 1939.1,1460.1 1940.1,1460.2 1941.1,1460.3 1942.1,1460.4 1943.1,1460.6 1944.1,1460.7 1945.1,1460.8 1946.1,1460.9 1947.1,1461.1 1948.1,1461.2 1949.1,1461.3 1950.1,1461.5 1951.1,1461.6 1952.1,1461.7 1953.1,1461.8 1954.1,1462.0 1955.1,1462.1 1956.1,1462.2 1957.1,1462.3 1958.1,1462.5 1959.1,1462.6 1960.1,1462.7 1961.1,1462.8 1962.1,1463.0 1963.1,1463.1 1964.1,1463.2 1965.1,1463.3 1966.1,1463.5 1967.1,1463.6 1968.1,1463.7 1969.1,1463.8 1970.1,1464.0 1971.1,1464.1 1972.1,1464.2 1973.1,1464.3 1974.1,1464.4 1975.1,1464.6 1976.1,1464.7 1977.1,1464.8 1978.1,1464.9 1979.1,1465.1 1980.1,1465.2 1981.1,1465.3 1982.1,1465.4 1983.1,1465.6 1984.1,1465.7 1985.1,1465.8 1986.1,1465.9 1987.1,1466.1 1988.1,1466.2 1989.1,1466.3 1990.1,1466.4 1991.1,1466.5 1992.1,1466.7 1993.1,1466.8 1994.1,1466.9 1995.1,1467.0 1996.1,1467.2 1997.1,1467.3 1998.1,1467.4 1999.1,1467.5 2000.1,1467.7 2001.1,1467.8 2002.1,1467.9 2003.1,1468.0 2004.1,1468.2 2005.1,1468.3 2006.1,1468.4 2007.1,1468.5 2008.1,1468.7 2009.1,1468.8 2010.1,1468.9 2011.1,1469.1 2012.1,1469.2 2013.1,1469.3 2014.1,1469.4 2015.1,1469.6 2016.1,1469.7 2017.1,1469.8 2018.1,1469.9 2019.1,1470.1 2020.1,1470.2 2021.1,1470.3 2022.1,1470.5 2023.1,1470.6 2024.1,1470.7 2025.1,1470.8 2026.1,1471.0 2027.1,1471.1 2028.1,1471.2 2029.1,1471.3 2030.1,1471.5 2031.1,1471.6 2032.1,1471.7 2033.1,1471.9 2034.1,1472.0 2035.1,1472.1 2036.1,1472.2 2037.1,1472.4 2038.0,1472.5"/>
</g>
<g id="frame" filter="url(#bs)">
<rect x="411.5" y="1459.5" width="7.8" height="16.3" fill="rgba(0,0,0,0.27)"/>
<rect x="411.5" y="35.1" width="7.8" height="15.7" fill="rgba(0,0,0,0.27)"/>
<rect x="411.5" y="1455.5" width="7.8" height="4.0" fill="rgba(0,0,0,0.08)"/>
<rect x="411.5" y="50.8" width="7.8" height="4.0" fill="rgba(0,0,0,0.08)"/>
<rect x="647.4" y="1459.5" width="4.0" height="16.3" fill="rgba(0,0,0,0.52)"/>
<rect x="647.4" y="35.1" width="4.0" height="15.7" fill="rgba(0,0,0,0.52)"/>
<rect x="647.4" y="1455.5" width="4.0" height="4.0" fill="rgba(0,0,0,0.16)"/>
<rect x="647.4" y="50.8" width="4.0" height="4.0" fill="rgba(0,0,0,0.16)"/>
<rect x="879.6" y="1459.5" width="4.0" height="16.3" fill="rgba(0,0,0,0.52)"/>
<rect x="879.6" y="35.1" width="4.0" height="15.7" fill="rgba(0,0,0,0.52)"/>
<rect x="879.6" y="1455.5" width="4.0" height="4.0" fill="rgba(0,0,0,0.16)"/>
<rect x="879.6" y="50.8" width="4.0" height="4.0" fill="rgba(0,0,0,0.16)"/>
<rect x="1108.0" y="1459.5" width="7.8" height="16.3" fill="rgba(0,0,0,0.27)"/>
<rect x="1108.0" y="35.1" width="7.8" height="15.7" fill="rgba(0,0,0,0.27)"/>
<rect x="1108.0" y="1455.5" width="7.8" height="4.0" fill="rgba(0,0,0,0.08)"/>
<rect x="1108.0" y="50.8" width="7.8" height="4.0" fill="rgba(0,0,0,0.08)"/>
<rect x="1339.9" y="1459.5" width="7.8" height="16.3" fill="rgba(0,0,0,0.27)"/>
<rect x="1339.9" y="35.1" width="7.8" height="15.7" fill="rgba(0,0,0,0.27)"/>
<rect x="1339.9" y="1455.5" width="7.8" height="4.0" fill="rgba(0,0,0,0.08)"/>
<rect x="1339.9" y="50.8" width="7.8" height="4.0" fill="rgba(0,0,0,0.08)"/>
<rect x="1576.2" y="1459.5" width="4.0" height="16.3" fill="rgba(0,0,0,0.52)"/>
<rect x="1576.2" y="35.1" width="4.0" height="15.7" fill="rgba(0,0,0,0.52)"/>
<rect x="1576.2" y="1455.5" width="4.0" height="4.0" fill="rgba(0,0,0,0.16)"/>
<rect x="1576.2" y="50.8" width="4.0" height="4.0" fill="rgba(0,0,0,0.16)"/>
<rect x="1808.3" y="1459.5" width="4.0" height="16.3" fill="rgba(0,0,0,0.52)"/>
<rect x="1808.3" y="35.1" width="4.0" height="15.7" fill="rgba(0,0,0,0.52)"/>
<rect x="1808.3" y="1455.5" width="4.0" height="4.0" fill="rgba(0,0,0,0.16)"/>
<rect x="1808.3" y="50.8" width="4.0" height="4.0" fill="rgba(0,0,0,0.16)"/>
<rect x="183.2" y="1312.6" width="15.5" height="5.8" fill="rgba(0,0,0,0.36)"/>
<rect x="2025.1" y="1312.6" width="19.0" height="5.8" fill="rgba(0,0,0,0.36)"/>
<rect x="198.7" y="1312.6" width="4.0" height="5.8" fill="rgba(0,0,0,0.10)"/>
<rect x="2021.1" y="1312.6" width="4.0" height="5.8" fill="rgba(0,0,0,0.10)"/>
<rect x="183.2" y="1152.5" width="15.5" height="5.8" fill="rgba(0,0,0,0.36)"/>
<rect x="2025.1" y="1152.5" width="19.0" height="5.8" fill="rgba(0,0,0,0.36)"/>
<rect x="198.7" y="1152.5" width="4.0" height="5.8" fill="rgba(0,0,0,0.10)"/>
<rect x="2021.1" y="1152.5" width="4.0" height="5.8" fill="rgba(0,0,0,0.10)"/>
<rect x="183.2" y="992.5" width="15.5" height="5.8" fill="rgba(0,0,0,0.36)"/>
<rect x="2025.1" y="992.5" width="19.0" height="5.8" fill="rgba(0,0,0,0.36)"/>
<rect x="198.7" y="992.5" width="4.0" height="5.8" fill="rgba(0,0,0,0.10)"/>
<rect x="2021.1" y="992.5" width="4.0" height="5.8" fill="rgba(0,0,0,0.10)"/>
<rect x="183.2" y="832.4" width="15.5" height="5.8" fill="rgba(0,0,0,0.36)"/>
<rect x="2025.1" y="832.4" width="19.0" height="5.8" fill="rgba(0,0,0,0.36)"/>
<rect x="198.7" y="832.4" width="4.0" height="5.8" fill="rgba(0,0,0,0.10)"/>
<rect x="2021.1" y="832.4" width="4.0" height="5.8" fill="rgba(0,0,0,0.10)"/>
<rect x="183.2" y="672.3" width="15.5" height="5.8" fill="rgba(0,0,0,0.36)"/>
<rect x="2025.1" y="672.3" width="19.0" height="5.8" fill="rgba(0,0,0,0.36)"/>
<rect x="198.7" y="672.3" width="4.0" height="5.8" fill="rgba(0,0,0,0.10)"/>
<rect x="2021.1" y="672.3" width="4.0" height="5.8" fill="rgba(0,0,0,0.10)"/>
<rect x="183.2" y="512.2" width="15.5" height="5.8" fill="rgba(0,0,0,0.36)"/>
<rect x="2025.1" y="512.2" width="19.0" height="5.8" fill="rgba(0,0,0,0.36)"/>
<rect x="198.7" y="512.2" width="4.0" height="5.8" fill="rgba(0,0,0,0.10)"/>
<rect x="2021.1" y="512.2" width="4.0" height="5.8" fill="rgba(0,0,0,0.10)"/>
<rect x="183.2" y="352.2" width="15.5" height="5.8" fill="rgba(0,0,0,0.36)"/>
<rect x="2025.1" y="352.2" width="19.0" height="5.8" fill="rgba(0,0,0,0.36)"/>
<rect x="198.7" y="352.2" width="4.0" height="5.8" fill="rgba(0,0,0,0.10)"/>
<rect x="2021.1" y="352.2" width="4.0" height="5.8" fill="rgba(0,0,0,0.10)"/>
<rect x="183.2" y="192.1" width="15.5" height="5.8" fill="rgba(0,0,0,0.36)"/>
<rect x="2025.1" y="192.1" width="19.0" height="5.8" fill="rgba(0,0,0,0.36)"/>
<rect x="198.7" y="192.1" width="4.0" height="5.8" fill="rgba(0,0,0,0.10)"/>
<rect x="2021.1" y="192.1" width="4.0" height="5.8" fill="rgba(0,0,0,0.10)"/>
<rect x="179.2" y="35.1" width="8.0" height="1440.7" fill="rgba(0,0,0,0.52)"/>
<rect x="2036.1" y="39.1" width="4.0" height="1432.7" fill="rgba(0,0,0,0.40)"/>
<rect x="2040.1" y="35.1" width="4.0" height="1440.7" fill="rgba(0,0,0,0.69)"/>
<rect x="183.2" y="31.1" width="1860.9" height="4.0" fill="rgba(0,0,0,0.80)"/>
<rect x="179.2" y="31.1" width="4.0" height="4.0" fill="rgba(0,0,0,0.45)"/>
<rect x="187.2" y="35.1" width="1852.9" height="4.0" fill="rgba(0,0,0,0.40)"/>
<rect x="183.2" y="1471.8" width="1856.9" height="4.0" fill="rgba(0,0,0,0.80)"/>
<rect x="179.2" y="1475.8" width="1864.9" height="4.0" fill="rgba(0,0,0,0.45)"/>
<rect x="1258.0" y="59.2" width="757.8" height="378.7" fill="#fff"/>
<rect x="1256.0" y="59.2" width="4.0" height="378.7" fill="#cfcfcf"/>
<rect x="1260.0" y="59.2" width="3.8" height="378.7" fill="#333"/>
<rect x="1263.8" y="67.0" width="3.8" height="363.3" fill="#dcdcdc"/>
<rect x="2008.0" y="59.2" width="3.8" height="378.7" fill="#444"/>
<rect x="2011.8" y="59.2" width="4.0" height="378.7" fill="#b8b8b8"/>
<rect x="1263.8" y="59.2" width="744.2" height="4.1" fill="#9a9a9a"/>
<rect x="1263.8" y="63.3" width="744.2" height="3.7" fill="#333"/>
<rect x="1263.8" y="430.3" width="744.2" height="3.8" fill="#aaa"/>
<rect x="1263.8" y="434.1" width="744.2" height="3.8" fill="#444"/>
<rect x="1301.5" y="111.1" width="88.5" height="4.0" fill="#4a44b4"/>
<rect x="1301.5" y="115.1" width="88.5" height="4.0" fill="#b4b4e4"/>
<rect x="1301.5" y="198.9" width="88.5" height="4.0" fill="#76987a"/>
<rect x="1301.5" y="202.9" width="88.5" height="4.0" fill="#b8d4bc"/>
<rect x="1301.5" y="286.5" width="88.5" height="4.0" fill="#c24858"/>
<rect x="1301.5" y="290.5" width="88.5" height="4.0" fill="#e6b2ac"/>
<rect x="1301.5" y="378.1" width="88.5" height="4.0" fill="#5cb4a8"/>
<rect x="1301.5" y="374.1" width="88.5" height="4.0" fill="#b0dcd8"/>
</g>
<g id="labels" filter="url(#bt)">
<text class="lg" x="1453" y="133.5">DOPC theory</text>
<text class="lg" x="1453" y="221.8">DPPC theory</text>
<text class="lg" x="1453" y="310.3">DOPC experiment</text>
<text class="lg" x="1453" y="399.8">DPPC experiment</text>
<text class="tk" x="184.0" y="1529.2" text-anchor="middle">200</text>
<text class="tk" x="415.1" y="1529.2" text-anchor="middle">250</text>
<text class="tk" x="647.2" y="1529.2" text-anchor="middle">300</text>
<text class="tk" x="879.4" y="1529.2" text-anchor="middle">350</text>
<text class="tk" x="1111.6" y="1529.2" text-anchor="middle">400</text>
<text class="tk" x="1343.8" y="1529.2" text-anchor="middle">450</text>
<text class="tk" x="1576.0" y="1529.2" text-anchor="middle">500</text>
<text class="tk" x="1808.1" y="1529.2" text-anchor="middle">550</text>
<text class="tk" x="2042.6" y="1529.2" text-anchor="middle">600</text>
<text class="tk" x="171" y="1488.3" text-anchor="end">0.0</text>
<text class="tk" x="171" y="1328.2" text-anchor="end">0.5</text>
<text class="tk" x="171" y="1168.1" text-anchor="end">1.0</text>
<text class="tk" x="171" y="1008.1" text-anchor="end">1.5</text>
<text class="tk" x="171" y="848.0" text-anchor="end">2.0</text>
<text class="tk" x="171" y="687.9" text-anchor="end">2.5</text>
<text class="tk" x="171" y="527.8" text-anchor="end">3.0</text>
<text class="tk" x="171" y="367.8" text-anchor="end">3.5</text>
<text class="tk" x="171" y="207.7" text-anchor="end">4.0</text>
<text class="tk" x="171" y="47.6" text-anchor="end">4.5</text>
<text class="lb" x="1114.3" y="1598.1" text-anchor="middle">Wavelength (nm)</text>
<text class="lb" transform="translate(59.5,755) rotate(-90)" text-anchor="middle">Intensity (arb. units)</text>
</g>
</svg></body></html>
